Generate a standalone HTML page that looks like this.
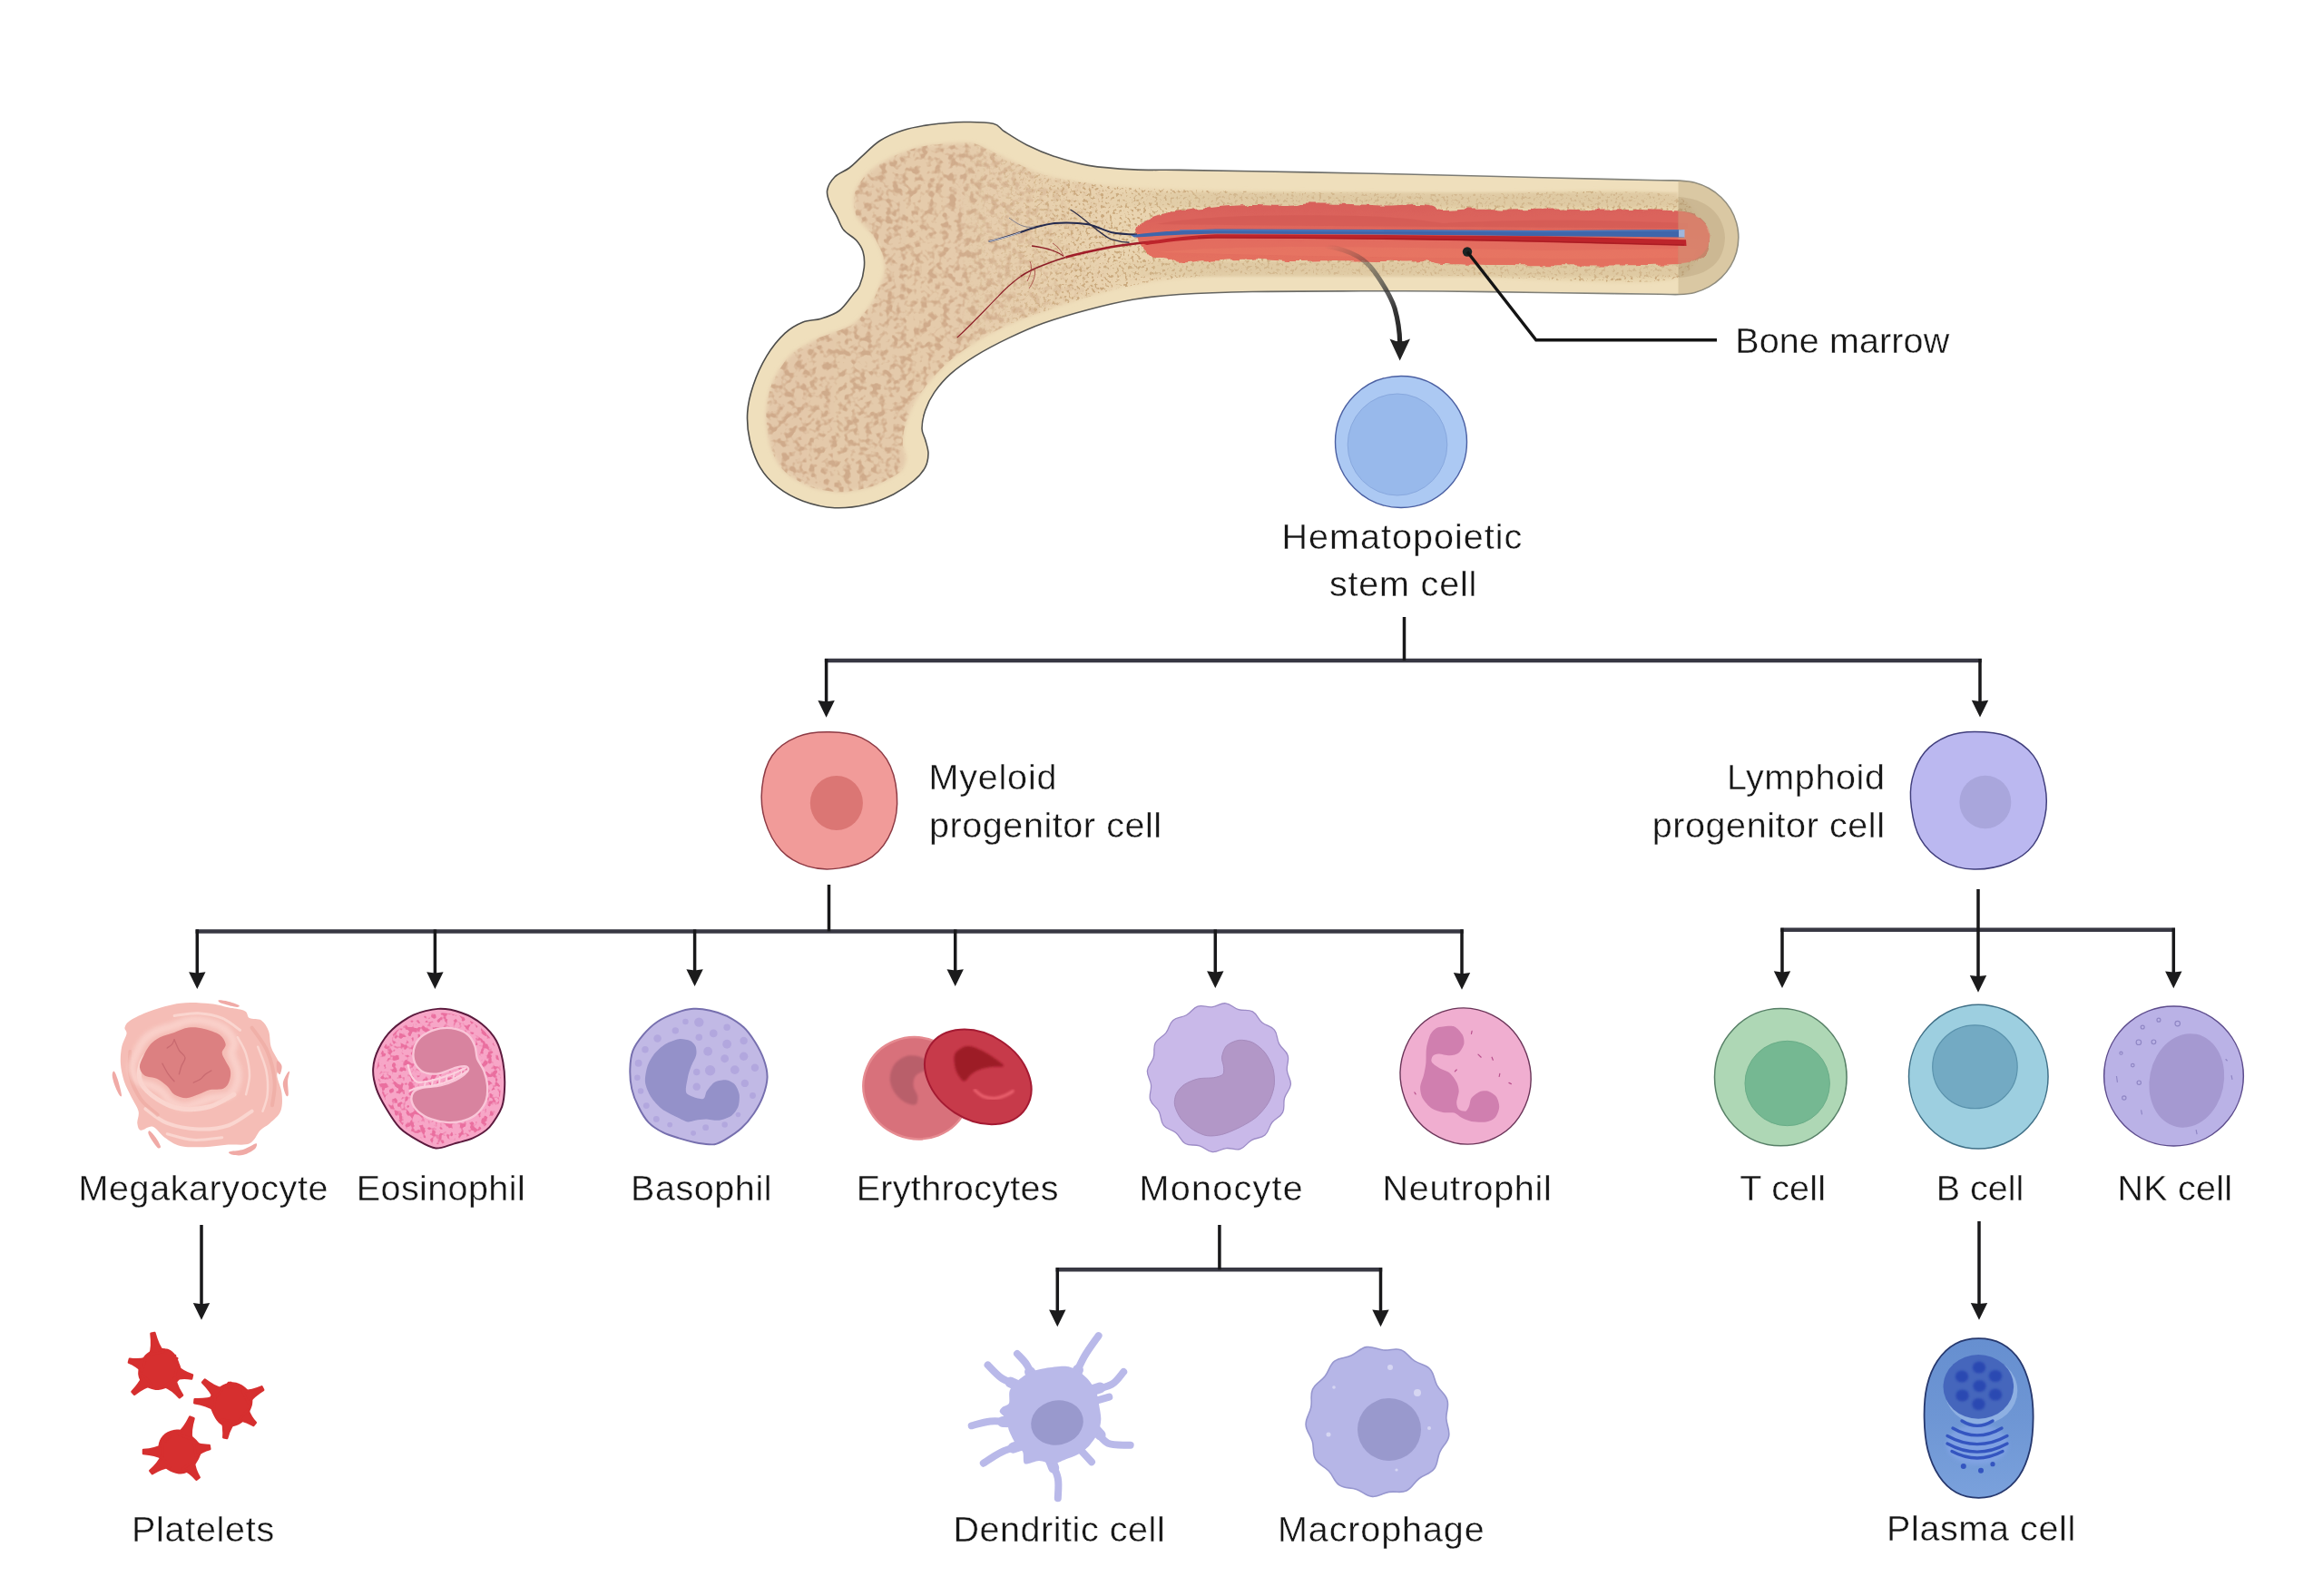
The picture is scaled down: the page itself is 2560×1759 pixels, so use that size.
<!DOCTYPE html>
<html lang="en"><head><meta charset="utf-8"><title>Hematopoiesis</title>
<style>
html,body{margin:0;padding:0;background:#fff;}
body{width:2560px;height:1759px;overflow:hidden;}
svg{display:block;}
text{font-family:"Liberation Sans",sans-serif;font-size:39.5px;fill:#161616;stroke:#fff;stroke-width:0.4px;paint-order:fill stroke;}
</style></head><body>
<svg width="2560" height="1759" viewBox="0 0 2560 1759">
<defs>
<filter id="spong" x="0" y="0" width="100%" height="100%" color-interpolation-filters="sRGB">
 <feTurbulence type="fractalNoise" baseFrequency="0.13" numOctaves="2" seed="11" result="n"/>
 <feColorMatrix in="n" type="matrix" values="0 0 0 0 0.79  0 0 0 0 0.63  0 0 0 0 0.50  -5 0 0 0 2.6" result="c"/>
 <feGaussianBlur in="c" stdDeviation="0.7" result="cb"/>
 <feComposite in="cb" in2="SourceGraphic" operator="in"/>
</filter>
<filter id="spong2" x="0" y="0" width="100%" height="100%" color-interpolation-filters="sRGB">
 <feTurbulence type="fractalNoise" baseFrequency="0.3" numOctaves="2" seed="5" result="n"/>
 <feColorMatrix in="n" type="matrix" values="0 0 0 0 0.76  0 0 0 0 0.62  0 0 0 0 0.44  -7 0 0 0 3.15" result="c"/>
 <feComposite in="c" in2="SourceGraphic" operator="in"/>
</filter>
<linearGradient id="fadeL" gradientUnits="userSpaceOnUse" x1="1050" y1="0" x2="1230" y2="0"><stop offset="0" stop-color="#fff" stop-opacity="1"/><stop offset="1" stop-color="#fff" stop-opacity="0"/></linearGradient>
<linearGradient id="fadeR" gradientUnits="userSpaceOnUse" x1="1050" y1="0" x2="1200" y2="0"><stop offset="0" stop-color="#fff" stop-opacity="0"/><stop offset="1" stop-color="#fff" stop-opacity="1"/></linearGradient>
<mask id="mL" maskUnits="userSpaceOnUse" x="800" y="100" width="1200" height="500"><rect x="800" y="100" width="1200" height="500" fill="url(#fadeL)"/></mask>
<mask id="mR" maskUnits="userSpaceOnUse" x="800" y="100" width="1200" height="500"><rect x="800" y="100" width="1200" height="500" fill="url(#fadeR)"/></mask>
<filter id="rough" x="-5%" y="-20%" width="110%" height="140%"><feTurbulence type="fractalNoise" baseFrequency="0.07" numOctaves="2" seed="4" result="t"/><feDisplacementMap in="SourceGraphic" in2="t" scale="7" xChannelSelector="R" yChannelSelector="G"/></filter>
<filter id="b2"><feGaussianBlur stdDeviation="2"/></filter>
<filter id="b3"><feGaussianBlur stdDeviation="3.5"/></filter>
<filter id="b1"><feGaussianBlur stdDeviation="1"/></filter>
<linearGradient id="spg" gradientUnits="userSpaceOnUse" x1="840" y1="0" x2="1500" y2="0">
 <stop offset="0" stop-color="#e3c8aa"/><stop offset="0.35" stop-color="#e5ccac"/><stop offset="0.6" stop-color="#e9d4b0"/><stop offset="1" stop-color="#e6d3ab"/>
</linearGradient>
<linearGradient id="mar" gradientUnits="userSpaceOnUse" x1="0" y1="226" x2="0" y2="292">
 <stop offset="0" stop-color="#d8605a"/><stop offset="0.4" stop-color="#de665c"/><stop offset="0.6" stop-color="#e36c5e"/><stop offset="1" stop-color="#e4705f"/>
</linearGradient>
<linearGradient id="carr" gradientUnits="userSpaceOnUse" x1="1460" y1="272" x2="1543" y2="380">
 <stop offset="0" stop-color="#333" stop-opacity="0"/><stop offset="0.35" stop-color="#333" stop-opacity="0.45"/><stop offset="0.75" stop-color="#2a2a2a" stop-opacity="0.95"/><stop offset="1" stop-color="#222" stop-opacity="1"/>
</linearGradient>
<linearGradient id="bstroke" gradientUnits="userSpaceOnUse" x1="820" y1="0" x2="1916" y2="0"><stop offset="0" stop-color="#4b4b49"/><stop offset="0.35" stop-color="#595956"/><stop offset="0.7" stop-color="#7a7a74"/><stop offset="1" stop-color="#8a8a80"/></linearGradient>
<clipPath id="boneclip"><path id="boneout" d="M1094.6 136.2C1102.1 137.9 1100.8 141.0 1107.0 145.0C1113.2 149.0 1122.8 155.4 1132.0 160.0C1141.2 164.6 1150.8 168.7 1162.0 172.4C1173.2 176.1 1184.9 180.0 1199.5 182.4C1214.1 184.8 1232.8 186.1 1249.4 186.9C1266.1 187.7 1277.6 187.1 1299.4 187.4C1321.2 187.7 1346.6 188.1 1380.0 188.7C1413.4 189.3 1465.0 190.3 1500.0 191.0C1535.0 191.7 1556.4 192.2 1589.7 193.0C1623.0 193.8 1668.3 195.0 1700.0 195.8C1731.7 196.6 1758.3 197.1 1780.0 197.6C1801.7 198.1 1818.2 198.6 1830.0 198.8C1841.8 199.1 1844.4 198.7 1850.6 199.1C1856.8 199.5 1862.0 199.8 1867.5 201.2C1872.9 202.6 1878.3 204.8 1883.2 207.5C1888.1 210.2 1892.7 213.6 1896.7 217.5C1900.7 221.3 1904.3 225.8 1907.1 230.4C1909.9 235.1 1912.1 240.3 1913.6 245.6C1915.0 250.8 1915.8 256.4 1915.8 261.8C1915.8 267.2 1915.0 272.8 1913.6 278.0C1912.1 283.3 1909.9 288.5 1907.1 293.1C1904.3 297.8 1900.7 302.3 1896.7 306.1C1892.7 310.0 1888.1 313.4 1883.2 316.1C1878.3 318.8 1872.9 321.0 1867.5 322.4C1862.0 323.8 1856.8 324.2 1850.6 324.5C1844.4 324.8 1841.8 324.4 1830.0 324.3C1818.2 324.2 1801.7 323.9 1780.0 323.6C1758.3 323.3 1731.7 322.9 1700.0 322.5C1668.3 322.1 1623.0 321.3 1589.7 321.0C1556.4 320.7 1535.0 320.7 1500.0 320.8C1465.0 320.9 1413.4 320.9 1380.0 321.5C1346.6 322.1 1321.2 323.1 1299.4 324.5C1277.6 325.9 1266.1 327.2 1249.4 330.0C1232.8 332.8 1216.1 336.8 1199.5 341.2C1182.9 345.6 1164.2 351.0 1149.6 356.2C1135.0 361.4 1124.5 366.4 1112.0 372.4C1099.5 378.4 1085.5 385.7 1074.7 392.4C1063.9 399.1 1054.7 405.7 1047.2 412.4C1039.7 419.1 1034.3 425.8 1029.7 432.4C1025.1 439.0 1022.0 445.6 1019.7 452.3C1017.4 459.0 1016.0 466.9 1016.0 472.3C1016.0 477.7 1018.5 480.2 1019.7 484.8C1020.9 489.4 1023.0 494.8 1023.0 499.8C1023.0 504.8 1022.3 509.8 1019.7 514.8C1017.1 519.8 1013.0 524.7 1007.2 529.7C1001.4 534.7 993.5 540.3 984.8 544.7C976.1 549.1 965.6 553.5 954.8 556.0C944.0 558.5 931.5 560.3 919.9 559.7C908.2 559.1 895.3 556.0 884.9 552.2C874.5 548.5 865.3 543.4 857.4 537.2C849.5 531.0 842.7 523.5 837.5 514.8C832.3 506.1 828.5 494.8 826.2 484.8C823.9 474.8 823.1 464.8 823.7 454.8C824.3 444.8 826.5 435.3 830.0 424.9C833.5 414.5 839.1 402.0 844.9 392.4C850.7 382.8 858.2 373.6 864.9 367.4C871.6 361.2 878.2 357.7 884.9 355.0C891.6 352.3 898.2 353.3 904.9 351.2C911.5 349.1 919.0 346.9 924.8 342.5C930.6 338.1 936.0 329.6 939.8 325.0C943.5 320.4 945.2 319.8 947.3 314.8C949.4 309.8 951.7 301.1 952.3 294.8C952.9 288.6 952.5 282.3 951.0 277.3C949.5 272.3 947.1 268.8 943.6 264.8C940.1 260.9 933.3 258.0 929.8 253.6C926.2 249.2 924.8 243.4 922.3 238.6C919.8 233.8 916.7 229.7 914.9 224.9C913.1 220.1 910.8 215.0 911.6 210.0C912.4 205.0 915.8 199.2 919.9 195.0C924.0 190.8 931.0 188.8 936.0 185.0C941.0 181.2 944.2 177.4 949.8 172.4C955.4 167.4 962.3 159.8 969.8 155.0C977.3 150.2 985.6 146.6 994.8 143.7C1003.9 140.8 1013.5 139.0 1024.7 137.5C1035.9 136.0 1050.3 134.7 1062.0 134.5C1073.7 134.3 1087.1 134.4 1094.6 136.2Z"/></clipPath>
</defs>
<path d="M1094.6 136.2C1102.1 137.9 1100.8 141.0 1107.0 145.0C1113.2 149.0 1122.8 155.4 1132.0 160.0C1141.2 164.6 1150.8 168.7 1162.0 172.4C1173.2 176.1 1184.9 180.0 1199.5 182.4C1214.1 184.8 1232.8 186.1 1249.4 186.9C1266.1 187.7 1277.6 187.1 1299.4 187.4C1321.2 187.7 1346.6 188.1 1380.0 188.7C1413.4 189.3 1465.0 190.3 1500.0 191.0C1535.0 191.7 1556.4 192.2 1589.7 193.0C1623.0 193.8 1668.3 195.0 1700.0 195.8C1731.7 196.6 1758.3 197.1 1780.0 197.6C1801.7 198.1 1818.2 198.6 1830.0 198.8C1841.8 199.1 1844.4 198.7 1850.6 199.1C1856.8 199.5 1862.0 199.8 1867.5 201.2C1872.9 202.6 1878.3 204.8 1883.2 207.5C1888.1 210.2 1892.7 213.6 1896.7 217.5C1900.7 221.3 1904.3 225.8 1907.1 230.4C1909.9 235.1 1912.1 240.3 1913.6 245.6C1915.0 250.8 1915.8 256.4 1915.8 261.8C1915.8 267.2 1915.0 272.8 1913.6 278.0C1912.1 283.3 1909.9 288.5 1907.1 293.1C1904.3 297.8 1900.7 302.3 1896.7 306.1C1892.7 310.0 1888.1 313.4 1883.2 316.1C1878.3 318.8 1872.9 321.0 1867.5 322.4C1862.0 323.8 1856.8 324.2 1850.6 324.5C1844.4 324.8 1841.8 324.4 1830.0 324.3C1818.2 324.2 1801.7 323.9 1780.0 323.6C1758.3 323.3 1731.7 322.9 1700.0 322.5C1668.3 322.1 1623.0 321.3 1589.7 321.0C1556.4 320.7 1535.0 320.7 1500.0 320.8C1465.0 320.9 1413.4 320.9 1380.0 321.5C1346.6 322.1 1321.2 323.1 1299.4 324.5C1277.6 325.9 1266.1 327.2 1249.4 330.0C1232.8 332.8 1216.1 336.8 1199.5 341.2C1182.9 345.6 1164.2 351.0 1149.6 356.2C1135.0 361.4 1124.5 366.4 1112.0 372.4C1099.5 378.4 1085.5 385.7 1074.7 392.4C1063.9 399.1 1054.7 405.7 1047.2 412.4C1039.7 419.1 1034.3 425.8 1029.7 432.4C1025.1 439.0 1022.0 445.6 1019.7 452.3C1017.4 459.0 1016.0 466.9 1016.0 472.3C1016.0 477.7 1018.5 480.2 1019.7 484.8C1020.9 489.4 1023.0 494.8 1023.0 499.8C1023.0 504.8 1022.3 509.8 1019.7 514.8C1017.1 519.8 1013.0 524.7 1007.2 529.7C1001.4 534.7 993.5 540.3 984.8 544.7C976.1 549.1 965.6 553.5 954.8 556.0C944.0 558.5 931.5 560.3 919.9 559.7C908.2 559.1 895.3 556.0 884.9 552.2C874.5 548.5 865.3 543.4 857.4 537.2C849.5 531.0 842.7 523.5 837.5 514.8C832.3 506.1 828.5 494.8 826.2 484.8C823.9 474.8 823.1 464.8 823.7 454.8C824.3 444.8 826.5 435.3 830.0 424.9C833.5 414.5 839.1 402.0 844.9 392.4C850.7 382.8 858.2 373.6 864.9 367.4C871.6 361.2 878.2 357.7 884.9 355.0C891.6 352.3 898.2 353.3 904.9 351.2C911.5 349.1 919.0 346.9 924.8 342.5C930.6 338.1 936.0 329.6 939.8 325.0C943.5 320.4 945.2 319.8 947.3 314.8C949.4 309.8 951.7 301.1 952.3 294.8C952.9 288.6 952.5 282.3 951.0 277.3C949.5 272.3 947.1 268.8 943.6 264.8C940.1 260.9 933.3 258.0 929.8 253.6C926.2 249.2 924.8 243.4 922.3 238.6C919.8 233.8 916.7 229.7 914.9 224.9C913.1 220.1 910.8 215.0 911.6 210.0C912.4 205.0 915.8 199.2 919.9 195.0C924.0 190.8 931.0 188.8 936.0 185.0C941.0 181.2 944.2 177.4 949.8 172.4C955.4 167.4 962.3 159.8 969.8 155.0C977.3 150.2 985.6 146.6 994.8 143.7C1003.9 140.8 1013.5 139.0 1024.7 137.5C1035.9 136.0 1050.3 134.7 1062.0 134.5C1073.7 134.3 1087.1 134.4 1094.6 136.2Z" fill="#efdfbc" stroke="url(#bstroke)" stroke-width="1.6"/>
<g clip-path="url(#boneclip)">
<path d="M1069.7 157.5C1079.7 158.8 1088.9 165.3 1099.6 170.0C1110.3 174.7 1136.2 188.1 1149.6 192.4C1163.0 196.7 1186.6 200.1 1200.0 202.0C1213.4 203.9 1236.7 206.1 1250.0 207.0C1263.3 207.9 1282.7 208.5 1300.0 209.0C1317.3 209.5 1340.0 210.3 1380.0 211.0C1420.0 211.7 1537.5 213.2 1600.0 214.0C1662.5 214.8 1815.8 204.7 1849.0 217.0C1882.2 229.3 1882.2 294.4 1849.0 306.0C1815.8 317.6 1662.5 304.5 1600.0 304.0C1537.5 303.5 1416.8 302.2 1380.0 302.3C1343.2 302.4 1338.4 303.8 1324.3 304.8C1310.2 305.8 1287.7 307.8 1274.4 309.8C1261.1 311.8 1237.8 316.4 1224.5 319.8C1211.2 323.2 1187.8 330.6 1174.5 335.0C1161.2 339.4 1136.3 347.8 1124.6 352.5C1112.9 357.2 1097.0 364.3 1087.0 370.0C1077.0 375.7 1058.0 388.2 1049.7 394.9C1041.4 401.6 1030.4 413.2 1024.7 419.9C1019.0 426.6 1010.9 438.1 1007.2 444.8C1003.5 451.5 999.0 463.8 997.3 469.8C995.6 475.8 994.6 485.1 994.8 489.8C995.0 494.5 998.8 500.8 998.5 504.8C998.2 508.8 996.8 515.8 992.3 519.8C987.8 523.8 973.1 531.7 964.8 534.7C956.5 537.7 939.1 541.9 929.8 542.2C920.5 542.5 903.6 540.2 894.9 537.2C886.2 534.2 870.9 525.5 864.9 519.8C858.9 514.1 852.6 502.8 849.9 494.8C847.2 486.8 844.4 469.1 844.4 459.8C844.4 450.5 846.5 433.9 849.9 424.9C853.3 415.9 863.2 399.2 869.9 392.4C876.6 385.6 890.6 378.4 899.9 373.7C909.2 369.0 931.8 362.7 939.8 357.5C947.8 352.3 956.1 340.0 959.8 335.0C963.5 330.0 965.3 324.5 967.3 319.8C969.3 315.1 974.1 305.1 974.8 299.8C975.5 294.5 974.0 285.1 972.3 279.8C970.6 274.5 966.0 265.1 962.3 259.8C958.6 254.5 947.6 245.0 944.8 240.0C942.0 235.0 941.2 226.3 941.0 222.0C940.8 217.7 941.5 212.3 943.6 208.0C945.7 203.7 952.8 194.1 957.0 190.0C961.2 185.9 969.1 180.6 974.8 177.4C980.5 174.2 993.3 168.3 1000.0 166.0C1006.7 163.7 1015.4 161.1 1024.7 160.0C1034.0 158.9 1059.7 156.2 1069.7 157.5Z" fill="url(#spg)" filter="url(#b2)"/>
<g mask="url(#mL)"><path d="M1069.7 157.5C1079.7 158.8 1088.9 165.3 1099.6 170.0C1110.3 174.7 1136.2 188.1 1149.6 192.4C1163.0 196.7 1186.6 200.1 1200.0 202.0C1213.4 203.9 1236.7 206.1 1250.0 207.0C1263.3 207.9 1282.7 208.5 1300.0 209.0C1317.3 209.5 1340.0 210.3 1380.0 211.0C1420.0 211.7 1537.5 213.2 1600.0 214.0C1662.5 214.8 1815.8 204.7 1849.0 217.0C1882.2 229.3 1882.2 294.4 1849.0 306.0C1815.8 317.6 1662.5 304.5 1600.0 304.0C1537.5 303.5 1416.8 302.2 1380.0 302.3C1343.2 302.4 1338.4 303.8 1324.3 304.8C1310.2 305.8 1287.7 307.8 1274.4 309.8C1261.1 311.8 1237.8 316.4 1224.5 319.8C1211.2 323.2 1187.8 330.6 1174.5 335.0C1161.2 339.4 1136.3 347.8 1124.6 352.5C1112.9 357.2 1097.0 364.3 1087.0 370.0C1077.0 375.7 1058.0 388.2 1049.7 394.9C1041.4 401.6 1030.4 413.2 1024.7 419.9C1019.0 426.6 1010.9 438.1 1007.2 444.8C1003.5 451.5 999.0 463.8 997.3 469.8C995.6 475.8 994.6 485.1 994.8 489.8C995.0 494.5 998.8 500.8 998.5 504.8C998.2 508.8 996.8 515.8 992.3 519.8C987.8 523.8 973.1 531.7 964.8 534.7C956.5 537.7 939.1 541.9 929.8 542.2C920.5 542.5 903.6 540.2 894.9 537.2C886.2 534.2 870.9 525.5 864.9 519.8C858.9 514.1 852.6 502.8 849.9 494.8C847.2 486.8 844.4 469.1 844.4 459.8C844.4 450.5 846.5 433.9 849.9 424.9C853.3 415.9 863.2 399.2 869.9 392.4C876.6 385.6 890.6 378.4 899.9 373.7C909.2 369.0 931.8 362.7 939.8 357.5C947.8 352.3 956.1 340.0 959.8 335.0C963.5 330.0 965.3 324.5 967.3 319.8C969.3 315.1 974.1 305.1 974.8 299.8C975.5 294.5 974.0 285.1 972.3 279.8C970.6 274.5 966.0 265.1 962.3 259.8C958.6 254.5 947.6 245.0 944.8 240.0C942.0 235.0 941.2 226.3 941.0 222.0C940.8 217.7 941.5 212.3 943.6 208.0C945.7 203.7 952.8 194.1 957.0 190.0C961.2 185.9 969.1 180.6 974.8 177.4C980.5 174.2 993.3 168.3 1000.0 166.0C1006.7 163.7 1015.4 161.1 1024.7 160.0C1034.0 158.9 1059.7 156.2 1069.7 157.5Z" fill="#000" filter="url(#spong)" opacity="0.75"/></g>
<g mask="url(#mR)"><path d="M1069.7 157.5C1079.7 158.8 1088.9 165.3 1099.6 170.0C1110.3 174.7 1136.2 188.1 1149.6 192.4C1163.0 196.7 1186.6 200.1 1200.0 202.0C1213.4 203.9 1236.7 206.1 1250.0 207.0C1263.3 207.9 1282.7 208.5 1300.0 209.0C1317.3 209.5 1340.0 210.3 1380.0 211.0C1420.0 211.7 1537.5 213.2 1600.0 214.0C1662.5 214.8 1815.8 204.7 1849.0 217.0C1882.2 229.3 1882.2 294.4 1849.0 306.0C1815.8 317.6 1662.5 304.5 1600.0 304.0C1537.5 303.5 1416.8 302.2 1380.0 302.3C1343.2 302.4 1338.4 303.8 1324.3 304.8C1310.2 305.8 1287.7 307.8 1274.4 309.8C1261.1 311.8 1237.8 316.4 1224.5 319.8C1211.2 323.2 1187.8 330.6 1174.5 335.0C1161.2 339.4 1136.3 347.8 1124.6 352.5C1112.9 357.2 1097.0 364.3 1087.0 370.0C1077.0 375.7 1058.0 388.2 1049.7 394.9C1041.4 401.6 1030.4 413.2 1024.7 419.9C1019.0 426.6 1010.9 438.1 1007.2 444.8C1003.5 451.5 999.0 463.8 997.3 469.8C995.6 475.8 994.6 485.1 994.8 489.8C995.0 494.5 998.8 500.8 998.5 504.8C998.2 508.8 996.8 515.8 992.3 519.8C987.8 523.8 973.1 531.7 964.8 534.7C956.5 537.7 939.1 541.9 929.8 542.2C920.5 542.5 903.6 540.2 894.9 537.2C886.2 534.2 870.9 525.5 864.9 519.8C858.9 514.1 852.6 502.8 849.9 494.8C847.2 486.8 844.4 469.1 844.4 459.8C844.4 450.5 846.5 433.9 849.9 424.9C853.3 415.9 863.2 399.2 869.9 392.4C876.6 385.6 890.6 378.4 899.9 373.7C909.2 369.0 931.8 362.7 939.8 357.5C947.8 352.3 956.1 340.0 959.8 335.0C963.5 330.0 965.3 324.5 967.3 319.8C969.3 315.1 974.1 305.1 974.8 299.8C975.5 294.5 974.0 285.1 972.3 279.8C970.6 274.5 966.0 265.1 962.3 259.8C958.6 254.5 947.6 245.0 944.8 240.0C942.0 235.0 941.2 226.3 941.0 222.0C940.8 217.7 941.5 212.3 943.6 208.0C945.7 203.7 952.8 194.1 957.0 190.0C961.2 185.9 969.1 180.6 974.8 177.4C980.5 174.2 993.3 168.3 1000.0 166.0C1006.7 163.7 1015.4 161.1 1024.7 160.0C1034.0 158.9 1059.7 156.2 1069.7 157.5Z" fill="#000" filter="url(#spong2)" opacity="0.8"/></g>
<defs><linearGradient id="bandg" gradientUnits="userSpaceOnUse" x1="1190" y1="0" x2="1340" y2="0"><stop offset="0" stop-color="#d9c39c" stop-opacity="0"/><stop offset="1" stop-color="#d9c39c" stop-opacity="0.55"/></linearGradient></defs>
<path d="M1190 212H1849V228H1190Z" fill="url(#bandg)" filter="url(#b1)"/>
<path d="M1190 288H1849V305H1190Z" fill="url(#bandg)" filter="url(#b1)"/>
<path d="M1253.0 258.6C1253.4 254.9 1256.2 248.0 1259.4 244.8C1262.6 241.6 1268.4 239.3 1274.4 237.4C1280.4 235.5 1292.0 233.5 1299.4 232.4C1306.8 231.3 1316.6 230.8 1324.0 230.0C1331.4 229.2 1340.6 228.0 1349.0 227.4C1357.4 226.8 1369.3 226.1 1380.0 226.0C1390.7 225.9 1411.0 227.2 1420.0 227.0C1429.0 226.8 1429.5 224.8 1440.0 224.5C1450.5 224.2 1476.3 224.6 1489.8 224.9C1503.3 225.2 1519.5 226.5 1530.0 226.5C1540.5 226.5 1553.0 225.0 1560.0 225.0C1567.0 225.0 1572.5 225.4 1577.0 226.5C1581.5 227.6 1583.2 231.4 1589.7 232.0C1596.2 232.6 1609.5 230.6 1620.0 230.5C1630.5 230.4 1645.8 231.5 1660.0 231.5C1674.2 231.5 1699.5 230.5 1714.5 230.5C1729.5 230.5 1747.2 231.4 1760.0 231.5C1772.8 231.6 1786.7 230.9 1800.0 231.0C1813.3 231.1 1838.8 231.7 1849.0 232.4C1859.2 233.2 1863.3 233.8 1868.0 236.0C1872.7 238.2 1877.6 243.4 1880.0 247.0C1882.4 250.6 1884.3 255.7 1884.3 260.0C1884.3 264.4 1882.4 271.8 1880.0 276.0C1877.6 280.2 1872.7 285.8 1868.0 288.0C1863.3 290.2 1862.2 290.3 1849.0 291.0C1835.8 291.7 1800.2 292.3 1780.0 292.5C1759.8 292.7 1734.0 292.4 1714.5 292.3C1695.0 292.2 1668.7 292.2 1650.0 292.0C1631.3 291.8 1601.0 291.6 1589.7 291.0C1578.5 290.4 1578.8 288.6 1575.0 288.0C1571.2 287.4 1573.0 287.3 1564.7 287.3C1556.5 287.3 1535.0 288.0 1520.0 288.0C1505.0 288.0 1479.8 287.3 1464.8 287.3C1449.8 287.3 1432.7 288.3 1420.0 288.0C1407.3 287.7 1392.0 285.6 1380.0 285.5C1368.0 285.4 1348.4 287.0 1340.0 287.3C1331.6 287.6 1330.4 286.9 1324.3 287.3C1318.2 287.7 1305.0 290.2 1299.4 289.8C1293.8 289.4 1291.5 285.9 1287.0 284.8C1282.5 283.7 1274.2 284.6 1269.7 282.3C1265.2 280.1 1259.5 273.4 1257.0 269.8C1254.5 266.2 1252.6 262.4 1253.0 258.6Z" fill="url(#mar)" filter="url(#rough)"/>
<path d="M1275 247C1320 238 1400 236 1500 238C1540 239 1570 243 1590 246C1700 240 1800 244 1860 246L1860 252C1700 250 1500 250 1275 247Z" fill="#cf5550" opacity="0.45"/>
<path d="M1275 278C1350 271 1450 270 1700 276L1870 274L1866 284C1700 287 1450 283 1275 278Z" fill="#ea7a66" opacity="0.5"/>
<path d="M1849.5 190H1925V335H1849.5Z" fill="#b8a27c" opacity="0.38"/>
<path d="M1849.5 217C1885 219 1900 240 1901 262C1900 287 1885 304 1849.5 306Z" fill="#a8906c" opacity="0.28"/>
<path d="M1849.5 232.4C1870 234 1884 246 1884.3 260C1884 278 1870 289 1849.5 291Z" fill="#e9806e" opacity="0.55"/>
</g>
<path d="M1089.6 266C1100 264 1112 260 1124.6 256C1138 251 1150 247.5 1162 246C1176 245 1188 245.5 1199.5 247.3C1210 250 1217 254 1224.5 256C1234 258 1244 258.3 1253 258.6" stroke="#242a4e" stroke-width="2" fill="none"/>
<path d="M1124.6 256C1110 262 1098 264 1089.6 266" stroke="#dfe3ee" stroke-width="1.2" fill="none" opacity="0.8"/>
<path d="M1179.5 231C1188 236 1196 243 1204.5 249.8C1212 256 1218 261 1224.5 263.6C1232 266 1238 267 1244.5 267.3" stroke="#2b2b45" stroke-width="1.4" fill="none"/>
<path d="M1112 240C1120 246 1128 252 1140 250" stroke="#7a7a8a" stroke-width="0.9" fill="none"/>
<path d="M1054.7 372.2C1070 358 1085 342 1099.6 327.2C1108 318 1116 311 1124.6 304.8" stroke="#8c1c26" stroke-width="1.1" fill="none"/>
<path d="M1124.6 304.8C1133 299 1141 295.5 1149.6 292.3C1158 289 1166 286 1174.5 283.5" stroke="#8c1c26" stroke-width="1.7" fill="none"/>
<path d="M1174.5 283.5C1191 279 1208 275.5 1224.5 272.3C1241 269.5 1258 267.5 1274.4 266" stroke="#a01c28" stroke-width="2.6" fill="none"/>
<path d="M1137 271C1145 272 1153 273.5 1159.6 276C1165 278 1169 280 1172 282.3" stroke="#8c1c26" stroke-width="1.3" fill="none"/>
<path d="M1160 268C1166 272 1170 277 1172 282.3M1135 288C1138 295 1136 302 1132 310M1140 296C1142 304 1138 312 1134 318" stroke="#9a3030" stroke-width="0.9" fill="none" opacity="0.8"/>
<path d="M1246 259.2C1280 255 1310 253 1340 252.4C1460 252.4 1580 253.4 1700 254L1856 253L1856 261.4L1700 260.2C1580 259 1460 258 1340 257.4C1310 258 1280 259.5 1250 261.5Z" fill="#3f66ab"/>
<path d="M1300 253.6C1460 253 1580 254 1700 254.8L1850 254" stroke="#5380c4" stroke-width="1.2" fill="none" opacity="0.8"/>
<path d="M1256 267.5C1285 262.5 1312 259.5 1340 258.2C1460 258.2 1580 259.2 1700 260.4L1858 264.2L1858.5 271L1700 267C1580 264.5 1460 262.8 1340 262.4C1312 263.5 1290 266 1264 270Z" fill="#bd242b"/>
<path d="M1320 262C1460 262 1580 263.6 1700 266L1856 270" stroke="#9c1820" stroke-width="1.2" fill="none" opacity="0.7"/>
<path d="M1850 253.2L1856.5 253L1856.5 261.4L1850 261.3Z" fill="#9fb6dc"/>
<path d="M1460 271C1492 276 1506 287 1514.8 299.8C1527 317 1534 330 1537 339.8C1541 354 1542.5 366 1542.7 378" stroke="url(#carr)" stroke-width="5.2" fill="none"/>
<path d="M1542.7 397.5L1531.5 373.5Q1542.7 379 1554 373.5Z" fill="#222"/>
<circle cx="1617" cy="277.5" r="5.2" fill="#1c2424"/>
<path d="M1617 277.5L1692.8 374.7H1892" stroke="#141414" stroke-width="3.4" fill="none" stroke-linejoin="miter"/>
<path d="M908.9 728.0H2183.8" stroke="#383843" stroke-width="4.5" fill="none"/>
<path d="M1547.5 680.0V728.0" stroke="#18181a" stroke-width="3.5" fill="none"/>
<path d="M910.6 726.0V774.2" stroke="#18181a" stroke-width="3.5" fill="none"/>
<path d="M910.6 790.8L901.4 772.0L910.6 773.2L919.8 772.0Z" fill="#1b1b1c"/>
<path d="M2182.0 726.0V773.9" stroke="#18181a" stroke-width="3.5" fill="none"/>
<path d="M2182.0 790.5L2172.8 771.7L2182.0 772.9L2191.2 771.7Z" fill="#1b1b1c"/>
<path d="M215.6 1026.4H1612.7" stroke="#383843" stroke-width="4.5" fill="none"/>
<path d="M913.5 975.0V1026.4" stroke="#18181a" stroke-width="3.5" fill="none"/>
<path d="M217.3 1024.4V1073.4" stroke="#18181a" stroke-width="3.5" fill="none"/>
<path d="M217.3 1090.0L208.1 1071.2L217.3 1072.4L226.5 1071.2Z" fill="#1b1b1c"/>
<path d="M479.4 1024.4V1073.4" stroke="#18181a" stroke-width="3.5" fill="none"/>
<path d="M479.4 1090.0L470.2 1071.2L479.4 1072.4L488.6 1071.2Z" fill="#1b1b1c"/>
<path d="M765.6 1024.4V1070.4" stroke="#18181a" stroke-width="3.5" fill="none"/>
<path d="M765.6 1087.0L756.4 1068.2L765.6 1069.4L774.8 1068.2Z" fill="#1b1b1c"/>
<path d="M1052.7 1024.4V1070.4" stroke="#18181a" stroke-width="3.5" fill="none"/>
<path d="M1052.7 1087.0L1043.5 1068.2L1052.7 1069.4L1061.9 1068.2Z" fill="#1b1b1c"/>
<path d="M1339.3 1024.4V1072.4" stroke="#18181a" stroke-width="3.5" fill="none"/>
<path d="M1339.3 1089.0L1330.1 1070.2L1339.3 1071.4L1348.5 1070.2Z" fill="#1b1b1c"/>
<path d="M1611.0 1024.4V1074.2" stroke="#18181a" stroke-width="3.5" fill="none"/>
<path d="M1611.0 1090.8L1601.8 1072.0L1611.0 1073.2L1620.2 1072.0Z" fill="#1b1b1c"/>
<path d="M1962.3 1024.8H2397.0" stroke="#383843" stroke-width="4.5" fill="none"/>
<path d="M2180.0 980.0V1077.1" stroke="#18181a" stroke-width="3.5" fill="none"/>
<path d="M2180.0 1093.7L2170.8 1074.9L2180.0 1076.1L2189.2 1074.9Z" fill="#1b1b1c"/>
<path d="M1964.0 1022.8V1072.4" stroke="#18181a" stroke-width="3.5" fill="none"/>
<path d="M1964.0 1089.0L1954.8 1070.2L1964.0 1071.4L1973.2 1070.2Z" fill="#1b1b1c"/>
<path d="M2395.3 1022.8V1072.6" stroke="#18181a" stroke-width="3.5" fill="none"/>
<path d="M2395.3 1089.2L2386.1 1070.4L2395.3 1071.6L2404.5 1070.4Z" fill="#1b1b1c"/>
<path d="M222.0 1350.0V1438.2" stroke="#18181a" stroke-width="3.5" fill="none"/>
<path d="M222.0 1454.8L212.8 1436.0L222.0 1437.2L231.2 1436.0Z" fill="#1b1b1c"/>
<path d="M1163.6 1399.2H1523.2" stroke="#383843" stroke-width="4.5" fill="none"/>
<path d="M1343.9 1350.0V1399.2" stroke="#18181a" stroke-width="3.5" fill="none"/>
<path d="M1165.3 1397.2V1445.6" stroke="#18181a" stroke-width="3.5" fill="none"/>
<path d="M1165.3 1462.2L1156.1 1443.4L1165.3 1444.6L1174.5 1443.4Z" fill="#1b1b1c"/>
<path d="M1521.5 1397.2V1445.6" stroke="#18181a" stroke-width="3.5" fill="none"/>
<path d="M1521.5 1462.2L1512.3 1443.4L1521.5 1444.6L1530.7 1443.4Z" fill="#1b1b1c"/>
<path d="M2181.0 1346.0V1438.1" stroke="#18181a" stroke-width="3.5" fill="none"/>
<path d="M2181.0 1454.7L2171.8 1435.9L2181.0 1437.1L2190.2 1435.9Z" fill="#1b1b1c"/>
<circle cx="1544" cy="487" r="72.5" fill="#acc9f3" stroke="#4a5fa2" stroke-width="1.4"/>
<ellipse cx="1540" cy="490" rx="54.8" ry="56" fill="#98b9eb" stroke="#88a8de" stroke-width="1"/>
<g transform="translate(914.0 882.0) scale(0.9850) translate(-914.0 -882.0)">
<path d="M914.0 805.6C926.0 805.8 939.3 806.9 950.0 812.0C960.7 817.1 971.4 825.5 978.0 836.0C984.6 846.5 988.5 861.8 989.5 875.0C990.5 888.2 988.6 903.3 984.0 915.0C979.4 926.7 971.8 937.8 962.0 945.0C952.2 952.2 937.0 956.2 925.0 958.0C913.0 959.8 900.8 959.3 890.0 956.0C879.2 952.7 868.0 946.5 860.0 938.0C852.0 929.5 845.6 916.7 842.0 905.0C838.4 893.3 837.3 880.2 838.6 868.0C839.9 855.8 843.4 841.5 850.0 832.0C856.6 822.5 867.3 815.4 878.0 811.0C888.7 806.6 902.0 805.4 914.0 805.6Z" fill="#f19b99" stroke="#8d3a44" stroke-width="1.5"/>
<ellipse cx="922" cy="885" rx="29.5" ry="30.5" fill="#db7674"/>
</g>
<g transform="translate(2180.5 882.2) scale(0.9820) translate(-2180.5 -882.2)">
<path d="M2176.0 805.0C2187.0 805.0 2201.0 805.5 2212.0 810.0C2223.0 814.5 2234.8 822.7 2242.0 832.0C2249.2 841.3 2252.8 854.7 2255.0 866.0C2257.2 877.3 2257.2 889.0 2255.0 900.0C2252.8 911.0 2248.7 923.3 2242.0 932.0C2235.3 940.7 2226.2 947.4 2215.0 952.0C2203.8 956.6 2187.5 959.7 2175.0 959.4C2162.5 959.1 2150.0 955.7 2140.0 950.0C2130.0 944.3 2120.8 935.0 2115.0 925.0C2109.2 915.0 2106.5 901.2 2105.0 890.0C2103.5 878.8 2103.5 868.3 2106.0 858.0C2108.5 847.7 2113.3 836.0 2120.0 828.0C2126.7 820.0 2136.7 813.8 2146.0 810.0C2155.3 806.2 2165.0 805.0 2176.0 805.0Z" fill="#bbb8f0" stroke="#403e7c" stroke-width="1.5"/>
<ellipse cx="2188" cy="884" rx="29" ry="29.7" fill="#a9a6dc"/>
</g>
<path d="M198.7 1105.7C187.7 1107.0 175.0 1111.0 165.8 1114.2C156.6 1117.4 148.1 1121.7 143.4 1124.7C138.7 1127.8 138.2 1130.2 137.5 1132.6C136.8 1135.0 140.0 1135.7 139.5 1139.2C138.9 1142.7 135.3 1148.2 134.2 1153.7C133.1 1159.2 132.5 1165.7 132.9 1172.1C133.3 1178.5 134.9 1185.7 136.8 1191.8C138.8 1198.0 142.1 1203.5 144.7 1208.9C147.4 1214.4 151.5 1219.9 152.6 1224.7C153.7 1229.6 150.9 1234.4 151.3 1237.9C151.8 1241.4 152.4 1245.1 155.3 1245.8C158.1 1246.4 164.0 1240.5 168.4 1241.8C172.8 1243.2 176.5 1250.2 181.6 1253.7C186.6 1257.2 191.4 1261.1 198.7 1262.9C205.9 1264.6 216.2 1264.4 225.0 1264.2C233.8 1264.0 243.0 1262.2 251.3 1261.6C259.6 1260.9 269.1 1262.9 275.0 1260.3C280.9 1257.6 283.1 1249.5 286.8 1245.8C290.6 1242.1 293.6 1241.4 297.4 1237.9C301.1 1234.4 307.0 1230.2 309.2 1224.7C311.4 1219.3 311.2 1211.6 310.5 1205.0C309.9 1198.4 305.5 1190.3 305.3 1185.3C305.0 1180.2 309.2 1177.8 309.2 1174.7C309.2 1171.7 307.0 1170.4 305.3 1166.8C303.5 1163.3 300.2 1158.7 298.7 1153.7C297.1 1148.6 297.8 1141.4 296.1 1136.6C294.3 1131.8 291.7 1127.1 288.2 1124.7C284.6 1122.3 278.1 1123.9 275.0 1122.1C271.9 1120.4 273.7 1116.2 269.7 1114.2C265.8 1112.2 257.7 1111.6 251.3 1110.3C245.0 1108.9 240.4 1107.1 231.6 1106.3C222.8 1105.5 209.6 1104.3 198.7 1105.7Z" fill="#f5bdb6"/>
<g fill="none" stroke="#fbd9d3" stroke-linecap="round" opacity="0.9">
<path d="M168.4 1153.7C166.2 1156.8 157.5 1165.5 155.3 1172.1C153.1 1178.7 152.2 1186.6 155.3 1193.2C158.3 1199.7 166.2 1206.8 173.7 1211.6C181.1 1216.4 190.4 1220.8 200.0 1222.1C209.6 1223.4 221.9 1222.1 231.6 1219.5C241.2 1216.8 253.5 1208.5 257.9 1206.3" stroke-width="5"/>
<path d="M160.5 1222.1C164.5 1224.7 174.6 1234.2 184.2 1237.9C193.9 1241.6 207.2 1244.0 218.4 1244.5C229.6 1244.9 241.4 1243.8 251.3 1240.5C261.2 1237.2 273.2 1227.4 277.6 1224.7" stroke-width="4"/>
<path d="M192.1 1119.5C196.5 1119.0 209.6 1116.4 218.4 1116.8C227.2 1117.3 237.1 1119.0 244.7 1122.1C252.4 1125.2 261.2 1133.1 264.5 1135.3" stroke-width="3"/>
<path d="M261.8 1143.2C263.4 1146.2 268.9 1154.6 271.1 1161.6C273.2 1168.6 275.0 1177.8 275.0 1185.3C275.0 1192.7 271.7 1202.8 271.1 1206.3" stroke-width="2.5"/>
<path d="M284.2 1153.7C285.7 1158.1 291.7 1171.2 293.4 1180.0C295.2 1188.8 295.4 1198.9 294.7 1206.3C294.1 1213.8 290.4 1221.7 289.5 1224.7" stroke-width="2.5"/>
<path d="M184.2 1249.7C189.0 1250.8 203.1 1255.7 213.2 1256.3C223.2 1257.0 239.5 1254.1 244.7 1253.7" stroke-width="3"/>
</g>
<g fill="none" stroke="#eda79f" stroke-linecap="round" opacity="0.6">
<path d="M143.4 1158.9C143.4 1163.3 141.4 1176.5 143.4 1185.3C145.4 1194.0 150.2 1204.3 155.3 1211.6C160.3 1218.8 170.6 1225.8 173.7 1228.7" stroke-width="4"/>
<path d="M277.6 1132.6C280.5 1137.0 290.6 1149.1 294.7 1158.9C298.9 1168.8 301.8 1182.0 302.6 1191.8C303.5 1201.7 300.4 1213.8 300.0 1218.2" stroke-width="4"/>
</g>
<path d="M190.8 1130.7C196.9 1128.7 202.9 1125.5 209.2 1124.7C215.6 1124.0 222.6 1124.5 228.9 1126.1C235.3 1127.6 242.5 1130.2 247.4 1133.9C252.2 1137.7 256.6 1143.8 257.9 1148.4C259.2 1153.0 254.6 1156.3 255.3 1161.6C255.9 1166.8 261.0 1174.3 261.8 1180.0C262.7 1185.7 262.3 1191.2 260.5 1195.8C258.8 1200.4 255.9 1205.2 251.3 1207.6C246.7 1210.0 238.4 1208.9 232.9 1210.3C227.4 1211.6 223.2 1214.0 218.4 1215.5C213.6 1217.1 209.0 1219.7 203.9 1219.5C198.9 1219.3 192.3 1216.8 188.2 1214.2C184.0 1211.6 182.2 1206.5 178.9 1203.7C175.7 1200.8 172.8 1199.1 168.4 1197.1C164.0 1195.1 156.5 1195.1 152.6 1191.8C148.8 1188.6 145.8 1182.4 145.4 1177.4C145.0 1172.3 147.7 1166.8 150.0 1161.6C152.3 1156.3 155.5 1150.0 159.2 1145.8C162.9 1141.6 167.1 1139.1 172.4 1136.6C177.6 1134.1 184.6 1132.6 190.8 1130.7Z" fill="none" stroke="#fad4ce" stroke-width="9" opacity="0.8" filter="url(#b2)"/>
<path d="M192.1 1137.9C197.4 1136.1 202.4 1133.3 207.9 1132.6C213.4 1132.0 219.3 1132.6 225.0 1133.9C230.7 1135.3 238.2 1137.7 242.1 1140.5C246.1 1143.4 248.2 1147.8 248.7 1151.1C249.1 1154.3 244.7 1157.2 244.7 1160.3C244.7 1163.3 247.1 1166.2 248.7 1169.5C250.2 1172.8 253.3 1176.3 253.9 1180.0C254.6 1183.7 253.9 1188.6 252.6 1191.8C251.3 1195.1 249.6 1198.2 246.1 1199.7C242.5 1201.3 236.2 1200.0 231.6 1201.1C227.0 1202.1 222.8 1204.8 218.4 1206.3C214.0 1207.9 209.6 1210.3 205.3 1210.3C200.9 1210.3 195.6 1208.5 192.1 1206.3C188.6 1204.1 187.3 1200.0 184.2 1197.1C181.1 1194.3 177.9 1191.2 173.7 1189.2C169.5 1187.2 162.5 1187.5 159.2 1185.3C155.9 1183.1 154.2 1179.6 153.9 1176.1C153.7 1172.5 155.9 1168.4 157.9 1164.2C159.9 1160.0 162.7 1154.6 165.8 1151.1C168.9 1147.5 171.9 1145.4 176.3 1143.2C180.7 1141.0 186.8 1139.6 192.1 1137.9Z" fill="#dc8081"/>
<g fill="none" stroke="#c86a70" stroke-width="1.3" stroke-linecap="round">
<path d="M192.1 1145.8C193.0 1147.8 195.4 1154.3 197.4 1157.6C199.3 1160.9 203.5 1162.7 203.9 1165.5C204.4 1168.4 201.1 1171.7 200.0 1174.7C198.9 1177.8 197.8 1182.4 197.4 1183.9"/>
<path d="M178.9 1172.1C180.0 1174.1 183.3 1180.7 185.5 1183.9C187.7 1187.2 191.0 1190.5 192.1 1191.8"/>
<path d="M184.2 1155.0C185.1 1154.3 188.2 1152.6 189.5 1151.1C190.8 1149.5 191.7 1146.7 192.1 1145.8"/>
<path d="M213.2 1193.2C214.5 1192.5 218.9 1190.7 221.1 1189.2C223.2 1187.7 224.3 1185.5 226.3 1183.9C228.3 1182.4 231.8 1180.7 232.9 1180.0"/>
</g>
<g fill="#f0aaa6">
<path d="M240.8 1102.4C242.2 1102.1 247.6 1102.8 251.3 1103.7C255.0 1104.6 261.5 1106.8 263.2 1107.9C264.8 1108.9 263.4 1110.1 261.2 1110.0C259.0 1109.9 253.1 1108.2 250.0 1107.4C246.9 1106.6 244.3 1106.1 242.8 1105.3C241.2 1104.4 239.4 1102.6 240.8 1102.4Z"/>
<path d="M125.7 1180.7C126.6 1181.3 128.2 1184.9 129.6 1189.2C131.0 1193.5 133.6 1203.4 133.9 1206.3C134.3 1209.3 132.9 1208.7 131.6 1207.0C130.3 1205.2 127.6 1199.4 126.3 1195.8C125.0 1192.2 123.8 1187.8 123.7 1185.3C123.6 1182.7 124.7 1180.0 125.7 1180.7Z"/>
<path d="M165.1 1246.4C166.5 1247.2 169.7 1250.8 171.7 1253.7C173.7 1256.5 176.6 1261.7 177.0 1263.6C177.3 1265.4 175.3 1266.1 173.7 1264.9C172.0 1263.7 168.8 1258.9 167.1 1256.3C165.4 1253.7 163.8 1250.7 163.4 1249.1C163.1 1247.4 163.8 1245.7 165.1 1246.4Z"/>
<path d="M319.1 1181.3C319.3 1182.6 317.3 1187.7 317.1 1191.8C316.9 1196.0 318.1 1203.8 317.8 1206.3C317.4 1208.8 316.1 1208.9 315.1 1207.0C314.1 1205.0 311.7 1198.3 311.8 1194.5C312.0 1190.6 314.6 1186.1 315.8 1183.9C317.0 1181.8 318.9 1180.0 319.1 1181.3Z"/>
<path d="M252.6 1269.5C254.6 1268.5 263.5 1268.4 268.4 1266.8C273.4 1265.3 280.3 1260.3 282.2 1260.3C284.2 1260.3 282.6 1264.8 280.3 1266.8C278.0 1268.9 272.4 1271.8 268.4 1272.8C264.5 1273.8 259.2 1273.3 256.6 1272.8C253.9 1272.2 250.7 1270.5 252.6 1269.5Z"/>
<path d="M305.3 1169.5C306.1 1168.6 310.0 1172.3 310.5 1174.7C311.1 1177.1 309.4 1183.1 308.6 1183.9C307.7 1184.8 305.8 1182.4 305.3 1180.0C304.7 1177.6 304.4 1170.4 305.3 1169.5Z"/>
</g>
<g transform="translate(483.6 1188.7) scale(0.9850) translate(-483.6 -1188.7)">
<path d="M482.7 1110.7C490.3 1110.3 502.2 1112.7 509.0 1115.1C515.9 1117.4 526.2 1123.2 531.6 1127.6C537.0 1132.0 544.6 1140.4 547.9 1146.4C551.2 1152.4 554.1 1163.2 555.4 1170.2C556.7 1177.2 557.5 1189.5 557.3 1196.5C557.1 1203.5 556.5 1213.8 554.2 1220.3C551.8 1226.8 544.9 1238.0 540.4 1242.9C535.8 1247.8 527.2 1252.8 521.6 1255.4C516.0 1258.0 506.1 1260.1 500.3 1261.7C494.5 1263.3 485.8 1267.2 480.2 1266.7C474.6 1266.2 465.8 1261.1 460.2 1257.9C454.6 1254.8 445.0 1249.0 440.1 1244.1C435.2 1239.2 428.8 1229.0 425.1 1222.8C421.4 1216.7 415.9 1206.6 413.8 1200.3C411.7 1194.0 409.7 1184.0 410.1 1177.7C410.4 1171.4 413.3 1161.3 416.3 1155.2C419.3 1149.0 425.9 1139.1 431.4 1133.9C436.8 1128.6 448.0 1120.8 455.2 1117.6C462.4 1114.3 475.2 1111.0 482.7 1110.7Z" fill="#f7a6c7" stroke="#5c1a3e" stroke-width="2"/>
<defs><filter id="eosp" x="400" y="1100" width="170" height="180" filterUnits="userSpaceOnUse" color-interpolation-filters="sRGB"><feTurbulence type="fractalNoise" baseFrequency="0.16" numOctaves="2" seed="3" result="n"/><feColorMatrix in="n" type="matrix" values="0 0 0 0 0.91  0 0 0 0 0.40  0 0 0 0 0.60  -8 0 0 0 4.0" result="c"/><feComposite in="c" in2="SourceGraphic" operator="in"/></filter></defs>
<path d="M482.7 1115.1C489.8 1114.7 501.3 1116.6 507.8 1118.8C514.3 1121.0 524.0 1126.6 529.1 1130.7C534.2 1134.8 541.0 1142.7 544.1 1148.3C547.3 1153.9 550.4 1164.1 551.7 1170.8C552.9 1177.6 553.2 1189.8 552.9 1196.5C552.6 1203.3 552.0 1213.0 549.8 1219.1C547.6 1225.1 541.5 1235.2 537.2 1239.7C533.0 1244.3 525.0 1249.1 519.7 1251.7C514.4 1254.2 505.1 1256.4 499.6 1257.9C494.2 1259.4 486.1 1262.8 480.9 1262.3C475.6 1261.8 467.3 1257.1 462.1 1254.2C456.8 1251.2 447.9 1245.7 443.3 1241.0C438.6 1236.4 432.4 1226.7 428.8 1221.0C425.3 1215.2 420.2 1205.7 418.2 1199.6C416.2 1193.6 414.1 1183.8 414.4 1177.7C414.8 1171.7 417.9 1162.1 420.7 1156.4C423.5 1150.7 429.4 1141.9 434.5 1137.0C439.6 1132.1 450.3 1124.4 457.0 1121.3C463.8 1118.3 475.6 1115.4 482.7 1115.1Z" fill="#000" filter="url(#eosp)" opacity="0.85"/>
<path d="M485.2 1132.6C490.7 1131.6 498.1 1132.1 502.8 1133.2C507.5 1134.4 513.4 1137.2 516.6 1140.1C519.8 1143.0 522.6 1148.7 524.1 1152.7C525.6 1156.6 525.1 1162.3 526.6 1166.4C528.1 1170.6 532.4 1175.7 534.1 1180.2C535.8 1184.7 537.5 1191.6 537.9 1196.5C538.2 1201.4 538.1 1208.3 536.6 1212.8C535.1 1217.3 531.4 1223.2 527.8 1226.6C524.3 1230.0 517.9 1233.7 512.8 1235.4C507.7 1237.1 499.6 1238.1 494.0 1237.9C488.4 1237.7 480.3 1236.0 475.2 1234.1C470.1 1232.2 463.5 1228.3 460.2 1225.3C456.9 1222.3 454.0 1217.3 453.3 1214.1C452.5 1210.9 453.4 1206.3 455.2 1204.0C456.9 1201.8 460.7 1200.2 465.2 1199.0C469.7 1197.9 479.6 1197.8 485.2 1196.5C490.9 1195.2 498.2 1192.7 502.8 1190.3C507.4 1187.8 514.2 1182.5 515.9 1180.2C517.6 1178.0 516.0 1175.8 514.1 1175.2C512.1 1174.6 507.1 1175.3 502.8 1176.5C498.5 1177.6 490.1 1181.8 485.2 1182.7C480.4 1183.7 474.0 1183.7 470.2 1182.7C466.4 1181.8 462.4 1179.1 460.2 1176.5C457.9 1173.8 455.6 1168.9 455.2 1165.2C454.7 1161.4 455.4 1155.2 457.0 1151.4C458.7 1147.6 462.2 1142.9 466.4 1140.1C470.7 1137.3 479.8 1133.6 485.2 1132.6Z" fill="#d8839f" stroke="#f9c6d8" stroke-width="2.4"/>
<path d="M448.9 1172.7C449.5 1174.8 450.8 1181.9 452.7 1185.2C454.5 1188.6 456.0 1191.9 460.2 1192.8C464.4 1193.6 471.5 1191.7 477.7 1190.3C484.0 1188.8 491.7 1186.3 497.8 1184.0C503.8 1181.7 511.3 1177.7 514.1 1176.5" fill="none" stroke="#fbd0de" stroke-width="2.2"/>
<path d="M450.2 1202.8C451.8 1202.2 455.6 1200.1 460.2 1199.0C464.8 1198.0 471.5 1198.0 477.7 1196.5C484.0 1195.1 491.4 1193.0 497.8 1190.3C504.1 1187.5 512.9 1181.9 515.9 1180.2" fill="none" stroke="#fbd0de" stroke-width="2.2"/>
<path d="M469 1191l-2 8M477 1189l-1.5 9M485 1186l-1 9M493 1184l-1 8M501 1181l-1 8M509 1178l-.5 8" stroke="#fbd0de" stroke-width="1.8" fill="none"/>
</g>
<g transform="translate(770.0 1186.5) scale(0.9850) translate(-770.0 -1186.5)">
<path d="M764.0 1110.7C769.2 1110.3 777.5 1111.4 782.8 1112.6C788.0 1113.7 796.3 1116.2 801.6 1118.8C806.8 1121.5 816.0 1127.3 820.4 1131.4C824.8 1135.4 829.7 1142.6 832.9 1147.6C836.1 1152.7 841.0 1162.1 842.9 1167.7C844.9 1173.3 846.9 1182.0 846.7 1187.7C846.5 1193.5 843.8 1203.4 841.7 1209.0C839.6 1214.7 835.0 1222.9 831.7 1227.8C828.3 1232.8 822.3 1240.1 817.9 1244.1C813.5 1248.2 804.5 1254.1 800.3 1256.7C796.1 1259.2 792.0 1261.7 787.8 1262.3C783.6 1262.9 775.9 1262.0 770.3 1261.1C764.6 1260.1 753.3 1257.1 747.7 1255.4C742.1 1253.7 734.9 1251.6 730.2 1249.1C725.4 1246.7 717.7 1241.9 713.9 1237.9C710.0 1233.8 705.2 1225.6 702.6 1220.3C699.9 1215.1 696.4 1206.2 695.1 1200.3C693.7 1194.3 693.0 1183.7 693.2 1177.7C693.4 1171.8 694.3 1162.9 696.3 1157.7C698.3 1152.4 703.7 1144.7 707.6 1140.1C711.5 1135.6 718.6 1128.6 723.9 1125.1C729.1 1121.6 739.6 1117.1 745.2 1115.1C750.8 1113.0 758.7 1111.0 764.0 1110.7Z" fill="#c1b9e5" stroke="#766fae" stroke-width="2"/>
<g fill="#b0a5dd" opacity="0.85">
<circle cx="770.3" cy="1125.7" r="5.3"/>
<circle cx="786.5" cy="1138.2" r="4.5"/>
<circle cx="801.6" cy="1131.4" r="3.8"/>
<circle cx="770.3" cy="1142.6" r="3.8"/>
<circle cx="801.6" cy="1150.2" r="5.0"/>
<circle cx="820.4" cy="1146.4" r="4.3"/>
<circle cx="780.3" cy="1158.3" r="5.0"/>
<circle cx="799.1" cy="1166.4" r="4.5"/>
<circle cx="820.4" cy="1163.9" r="4.8"/>
<circle cx="782.8" cy="1179.6" r="5.8"/>
<circle cx="810.4" cy="1179.0" r="5.0"/>
<circle cx="832.9" cy="1176.5" r="4.3"/>
<circle cx="767.7" cy="1181.5" r="3.8"/>
<circle cx="767.7" cy="1197.8" r="4.3"/>
<circle cx="821.6" cy="1194.0" r="4.3"/>
<circle cx="830.4" cy="1207.8" r="3.5"/>
<circle cx="743.9" cy="1135.1" r="3.8"/>
<circle cx="723.9" cy="1143.9" r="4.3"/>
<circle cx="710.1" cy="1156.4" r="3.8"/>
<circle cx="702.6" cy="1171.5" r="4.0"/>
<circle cx="701.3" cy="1187.7" r="3.3"/>
<circle cx="705.1" cy="1202.8" r="3.3"/>
<circle cx="711.4" cy="1219.1" r="3.5"/>
<circle cx="722.6" cy="1234.1" r="3.5"/>
<circle cx="737.7" cy="1240.4" r="3.0"/>
<circle cx="777.8" cy="1243.5" r="3.5"/>
<circle cx="764.0" cy="1249.8" r="3.0"/>
<circle cx="799.1" cy="1240.4" r="3.3"/>
<circle cx="814.1" cy="1229.1" r="2.8"/>
<circle cx="755.2" cy="1125.1" r="3.3"/>
</g>
<path d="M747.7 1144.5C751.4 1144.0 757.7 1145.3 760.2 1146.4C762.7 1147.5 765.6 1150.5 766.5 1152.7C767.4 1154.8 767.8 1159.7 767.1 1162.7C766.4 1165.7 762.7 1171.9 761.5 1175.2C760.2 1178.6 758.4 1183.7 757.7 1187.7C757.1 1191.8 754.2 1202.1 756.5 1205.3C758.7 1208.5 771.6 1211.9 774.6 1211.6C777.6 1211.2 777.3 1205.3 779.0 1202.8C780.8 1200.3 785.0 1194.4 787.8 1192.8C790.6 1191.1 797.3 1189.9 800.3 1190.3C803.3 1190.6 808.3 1193.1 810.4 1195.3C812.4 1197.4 814.9 1203.2 815.4 1206.5C815.9 1209.9 815.3 1217.2 814.1 1220.3C812.9 1223.5 809.4 1228.3 806.6 1230.4C803.8 1232.4 796.6 1234.9 792.8 1235.4C789.0 1235.9 781.3 1234.1 777.8 1234.1C774.3 1234.1 769.2 1234.9 766.5 1235.4C763.8 1235.8 760.6 1237.7 757.7 1237.2C754.9 1236.7 749.0 1233.5 745.2 1231.6C741.3 1229.7 732.7 1225.8 728.9 1222.8C725.1 1219.8 718.9 1213.1 716.4 1209.0C713.9 1205.0 710.6 1197.3 710.1 1192.8C709.6 1188.2 711.3 1179.4 712.6 1175.2C713.9 1171.0 717.5 1164.8 720.1 1161.4C722.8 1158.1 729.0 1152.4 732.7 1150.2C736.3 1147.9 744.0 1145.0 747.7 1144.5Z" fill="#9491c9"/>
</g>
<g transform="rotate(22 1010 1199.3)"><ellipse cx="1010" cy="1199.3" rx="59" ry="55.5" fill="#d8717b" stroke="#e58a90" stroke-width="2.5"/></g>
<path d="M1003.3 1163.2C1007.1 1163.0 1012.3 1163.7 1015.7 1165.4C1019.1 1167.1 1022.9 1171.1 1023.6 1173.3C1024.4 1175.6 1022.7 1176.9 1020.2 1179.0C1017.8 1181.0 1011.2 1182.7 1009.0 1185.7C1006.7 1188.7 1006.3 1193.3 1006.7 1197.0C1007.1 1200.8 1010.8 1204.9 1011.2 1208.3C1011.6 1211.7 1011.2 1216.2 1009.0 1217.3C1006.7 1218.4 1001.4 1217.1 997.7 1215.1C993.9 1213.0 989.2 1209.0 986.4 1204.9C983.6 1200.8 981.1 1195.1 980.8 1190.2C980.4 1185.4 982.1 1179.5 984.1 1175.6C986.2 1171.6 990.0 1168.6 993.2 1166.6C996.4 1164.5 999.6 1163.4 1003.3 1163.2Z" fill="#b95e6a" filter="url(#b1)"/>
<g transform="rotate(33 1077.8 1186.9)"><ellipse cx="1077.8" cy="1186.9" rx="63" ry="47" fill="#c73a4a" stroke="#a41a32" stroke-width="2"/></g>
<path d="M1051.8 1163.2C1052.6 1159.6 1054.8 1158.1 1057.5 1156.4C1060.1 1154.7 1063.7 1152.8 1067.6 1153.0C1071.6 1153.2 1076.6 1155.5 1081.2 1157.5C1085.7 1159.6 1090.6 1162.6 1094.7 1165.4C1098.8 1168.2 1105.6 1172.8 1106.0 1174.5C1106.3 1176.1 1100.9 1175.0 1096.9 1175.6C1093.0 1176.1 1086.6 1176.5 1082.3 1177.8C1078.0 1179.2 1074.2 1181.2 1071.0 1183.5C1067.8 1185.7 1065.4 1190.8 1063.1 1191.4C1060.9 1191.9 1059.2 1189.1 1057.5 1186.9C1055.8 1184.6 1053.9 1181.8 1053.0 1177.8C1052.0 1173.9 1051.1 1166.7 1051.8 1163.2Z" fill="#9d1a26" filter="url(#b1)"/>
<path d="M1074.4 1201.5C1075.9 1202.7 1079.8 1206.8 1083.4 1208.3C1087.0 1209.8 1091.7 1210.7 1095.8 1210.5C1100.0 1210.4 1104.8 1208.5 1108.2 1207.2C1111.6 1205.8 1114.8 1203.4 1116.1 1202.7" fill="none" stroke="#e85e6c" stroke-width="3.5" stroke-linecap="round" filter="url(#b1)"/>
<path d="M1419.2 1163.4C1420.9 1169.2 1417.7 1173.2 1418.3 1179.6C1418.9 1186.0 1422.9 1189.2 1422.4 1195.3C1421.8 1201.4 1417.3 1203.9 1415.6 1210.0C1413.8 1216.2 1416.3 1220.7 1413.5 1226.1C1410.8 1231.5 1405.8 1232.1 1401.9 1237.0C1398.0 1242.0 1398.6 1247.1 1394.0 1251.0C1389.5 1254.9 1384.7 1253.5 1379.3 1256.6C1373.8 1259.6 1372.4 1264.5 1366.8 1266.3C1361.2 1268.1 1357.3 1264.9 1351.2 1265.6C1345.0 1266.2 1341.9 1270.2 1336.1 1269.6C1330.2 1269.1 1327.9 1264.6 1321.9 1262.8C1316.0 1260.9 1311.6 1263.3 1306.4 1260.5C1301.2 1257.6 1300.8 1252.5 1295.9 1248.5C1291.1 1244.5 1286.1 1245.0 1282.4 1240.3C1278.6 1235.6 1280.1 1230.6 1277.2 1225.0C1274.2 1219.3 1269.4 1217.9 1267.6 1212.0C1265.9 1206.2 1269.1 1202.2 1268.5 1195.8C1267.9 1189.4 1263.9 1186.2 1264.4 1180.1C1265.0 1174.0 1269.5 1171.5 1271.2 1165.4C1273.0 1159.2 1270.5 1154.7 1273.3 1149.3C1276.0 1143.9 1281.0 1143.3 1284.9 1138.4C1288.8 1133.4 1288.2 1128.3 1292.8 1124.4C1297.3 1120.5 1302.1 1121.9 1307.5 1118.8C1313.0 1115.8 1314.4 1110.9 1320.0 1109.1C1325.6 1107.3 1329.5 1110.5 1335.6 1109.8C1341.8 1109.2 1344.9 1105.2 1350.7 1105.8C1356.6 1106.3 1358.9 1110.8 1364.9 1112.6C1370.8 1114.5 1375.2 1112.1 1380.4 1114.9C1385.6 1117.8 1386.0 1122.9 1390.9 1126.9C1395.7 1130.9 1400.7 1130.4 1404.4 1135.1C1408.2 1139.8 1406.7 1144.8 1409.6 1150.4C1412.6 1156.1 1417.4 1157.5 1419.2 1163.4Z" fill="#c9b9e9" stroke="#9c8bc6" stroke-width="1.3"/>
<path d="M1365.3 1146.4C1369.3 1145.9 1376.3 1147.0 1380.4 1148.9C1384.4 1150.8 1391.0 1156.1 1394.1 1160.2C1397.3 1164.2 1401.5 1172.6 1402.9 1177.7C1404.3 1182.8 1404.9 1191.3 1404.2 1196.5C1403.5 1201.8 1400.7 1210.4 1397.9 1215.3C1395.1 1220.2 1388.7 1227.7 1384.1 1231.6C1379.5 1235.5 1370.6 1240.3 1365.3 1242.9C1360.1 1245.5 1351.4 1249.2 1346.5 1250.4C1341.6 1251.6 1334.6 1252.4 1330.2 1251.7C1325.8 1251.0 1319.2 1248.0 1315.2 1245.4C1311.2 1242.8 1304.3 1236.7 1301.4 1232.9C1298.5 1229.0 1295.2 1221.7 1294.5 1217.8C1293.8 1214.0 1294.9 1208.4 1296.4 1205.3C1297.9 1202.1 1301.8 1197.5 1305.2 1195.3C1308.5 1193.0 1315.6 1190.1 1320.2 1189.0C1324.8 1187.9 1333.9 1188.4 1337.7 1187.7C1341.6 1187.0 1346.3 1185.7 1347.8 1184.0C1349.3 1182.2 1348.6 1177.8 1348.4 1175.2C1348.2 1172.6 1346.1 1168.3 1346.5 1165.2C1347.0 1162.0 1348.9 1155.3 1351.5 1152.7C1354.2 1150.0 1361.3 1146.9 1365.3 1146.4Z" fill="#b297c7" stroke="#a68bbd" stroke-width="1"/>
<g transform="rotate(-20 1615.1 1186)"><ellipse cx="1615.1" cy="1186" rx="71.4" ry="75.4" fill="#f0aed0" stroke="#6a3458" stroke-width="1.4"/></g>
<path d="M1590.2 1131.4C1593.0 1131.1 1599.7 1130.1 1602.7 1131.4C1605.7 1132.6 1610.0 1137.5 1611.5 1140.1C1613.0 1142.8 1613.9 1147.3 1613.4 1150.2C1612.8 1153.0 1609.9 1158.3 1607.7 1160.2C1605.5 1162.0 1600.9 1163.1 1597.7 1163.3C1594.5 1163.5 1587.8 1161.3 1585.2 1161.4C1582.5 1161.5 1580.0 1162.7 1578.9 1163.9C1577.9 1165.2 1576.8 1168.4 1577.7 1170.2C1578.5 1172.0 1582.4 1174.7 1585.2 1176.5C1588.0 1178.2 1594.9 1180.5 1597.7 1182.7C1600.5 1185.0 1603.8 1189.9 1605.2 1192.8C1606.6 1195.6 1607.7 1199.6 1607.7 1202.8C1607.7 1205.9 1605.2 1212.5 1605.2 1215.3C1605.2 1218.1 1606.3 1221.5 1607.7 1222.8C1609.1 1224.1 1613.7 1225.2 1615.3 1224.7C1616.8 1224.2 1618.1 1221.1 1619.0 1219.1C1619.9 1217.1 1619.9 1212.5 1621.5 1210.3C1623.1 1208.1 1627.7 1204.5 1630.3 1203.4C1632.9 1202.4 1637.7 1202.0 1640.3 1202.8C1642.9 1203.6 1647.4 1206.6 1649.1 1209.0C1650.8 1211.5 1652.4 1217.2 1652.2 1220.3C1652.0 1223.5 1649.8 1229.3 1647.8 1231.6C1645.8 1233.9 1641.5 1236.0 1637.8 1236.6C1634.1 1237.2 1625.4 1236.7 1621.5 1236.0C1617.7 1235.3 1612.9 1232.9 1610.2 1231.6C1607.6 1230.3 1605.5 1227.4 1602.7 1226.6C1599.9 1225.8 1593.7 1226.7 1590.2 1226.0C1586.7 1225.3 1580.8 1223.8 1577.7 1221.6C1574.5 1219.4 1569.4 1213.6 1567.6 1210.3C1565.9 1207.0 1564.9 1201.3 1565.1 1197.8C1565.3 1194.3 1568.0 1188.9 1568.9 1185.2C1569.8 1181.6 1571.0 1175.7 1571.4 1171.5C1571.8 1167.2 1571.3 1159.5 1572.0 1155.2C1572.7 1150.8 1574.9 1143.2 1576.4 1140.1C1577.9 1137.1 1580.7 1134.5 1582.7 1133.2C1584.6 1132.0 1587.4 1131.6 1590.2 1131.4Z" fill="#d07faf"/>
<g stroke="#b8508c" stroke-width="1.2" stroke-linecap="round">
<path d="M1622.1 1136.4L1621.5 1139.5"/>
<path d="M1629.0 1162.1L1632.2 1165.2"/>
<path d="M1644.1 1165.2L1645.3 1168.3"/>
<path d="M1603.3 1180.9L1605.2 1179.0"/>
<path d="M1652.8 1183.4L1652.2 1186.5"/>
<path d="M1558.9 1204.0L1560.1 1205.9"/>
<path d="M1662.9 1193.4L1665.4 1194.6"/>
</g>
<ellipse cx="1962.3" cy="1187.2" rx="72.8" ry="75.6" fill="#aed7b5" stroke="#567f66" stroke-width="1.5"/>
<circle cx="1969.7" cy="1194" r="46.7" fill="#75b892" stroke="#6aad88" stroke-width="1"/>
<g transform="translate(2180.3 1186.6) scale(0.9880) translate(-2180.3 -1186.6)">
<ellipse cx="2180.3" cy="1186.6" rx="77.7" ry="80.4" fill="#9dcfe0" stroke="#3f6f86" stroke-width="1.5"/>
<ellipse cx="2176.4" cy="1175.6" rx="47.3" ry="46.5" fill="#73aac3" stroke="#5a92ac" stroke-width="1.2"/>
</g>
<g transform="translate(2395.3 1185.9) scale(0.9850) translate(-2395.3 -1185.9)">
<ellipse cx="2395.5" cy="1186" rx="78" ry="78.2" fill="#bab2e6" stroke="#5c4b8c" stroke-width="1.5"/>
<g transform="rotate(12 2410 1191)"><ellipse cx="2410" cy="1191" rx="41.5" ry="53" fill="#a599d1"/></g>
<g fill="none" stroke="#8f86c4" stroke-width="1.2">
<circle cx="2378.7" cy="1123.2" r="2.0"/>
<circle cx="2399.8" cy="1127.2" r="2.8"/>
<circle cx="2360.7" cy="1131.2" r="2.0"/>
<circle cx="2356.3" cy="1148.2" r="2.8"/>
<circle cx="2373.1" cy="1147.8" r="2.4"/>
<circle cx="2349.6" cy="1173.9" r="1.8"/>
<circle cx="2356.7" cy="1193.3" r="2.2"/>
<circle cx="2340.0" cy="1210.4" r="2.2"/>
<circle cx="2336.6" cy="1160.3" r="1.6"/>
<path d="M2331.5 1186l1 7M2453.5 1167l2 2M2460 1185l1 5M2359 1224l1 5M2420.5 1246l1 5"/>
</g>
</g>
<g fill="#d62f2f" stroke="#d62f2f" stroke-linejoin="round" stroke-linecap="round">
<path d="M198.6 1509.0C199.0 1511.0 199.2 1513.0 198.9 1514.8C198.6 1516.6 197.9 1518.3 196.8 1519.9C195.8 1521.4 194.2 1522.7 192.6 1524.0C191.0 1525.2 189.0 1526.2 187.2 1527.1C185.3 1528.0 183.4 1528.8 181.5 1529.4C179.6 1530.0 177.8 1530.5 176.0 1530.7C174.2 1530.9 172.3 1531.0 170.4 1530.7C168.6 1530.5 166.6 1530.0 164.7 1529.2C162.8 1528.3 160.8 1527.2 159.2 1525.9C157.7 1524.5 156.2 1522.8 155.2 1521.0C154.2 1519.3 153.5 1517.2 153.3 1515.2C153.0 1513.2 153.3 1511.0 153.6 1509.0C154.0 1507.0 154.7 1505.0 155.4 1503.2C156.1 1501.4 157.0 1499.7 157.9 1498.1C158.8 1496.6 159.7 1495.3 160.8 1494.0C162.0 1492.8 163.2 1491.8 164.7 1490.9C166.2 1490.0 168.0 1489.2 169.9 1488.6C171.8 1488.0 174.0 1487.5 176.0 1487.3C178.0 1487.1 180.2 1487.0 182.1 1487.3C184.0 1487.5 185.7 1488.0 187.2 1488.8C188.7 1489.7 189.9 1490.8 191.1 1492.1C192.2 1493.5 193.2 1495.2 194.1 1497.0C195.1 1498.7 196.0 1500.8 196.7 1502.8C197.5 1504.8 198.3 1507.0 198.6 1509.0Z" stroke-width="2"/>
<path d="M180.0 1489.9Q174.2 1483.4 170.4 1469.1L166.5 1469.8Q168.3 1484.5 165.3 1492.7Z" stroke-width="2.5"/>
<path d="M160.7 1497.0Q152.2 1499.3 142.9 1497.7L141.9 1501.6Q150.6 1505.1 156.6 1511.4Z" stroke-width="2.5"/>
<path d="M191.8 1520.4Q200.1 1517.8 211.1 1519.4L212.0 1515.5Q201.5 1512.0 195.2 1505.9Z" stroke-width="2.5"/>
<path d="M157.6 1515.5Q155.1 1523.9 145.5 1533.8L148.2 1536.8Q159.1 1528.3 167.7 1526.6Z" stroke-width="2.5"/>
<path d="M181.2 1527.8Q189.3 1530.9 197.9 1540.3L201.0 1537.8Q194.1 1527.2 193.0 1518.6Z" stroke-width="2.5"/>
<path d="M193.2 1501.9Q197.6 1495.3 194.5 1496.9L193.1 1494.9Q195.5 1492.4 187.8 1494.7Z" stroke-width="1.5"/>
</g>
<g fill="#d62f2f" stroke="#d62f2f" stroke-linejoin="round" stroke-linecap="round">
<path d="M277.0 1548.0C276.6 1549.9 275.8 1551.7 275.1 1553.4C274.4 1555.2 273.5 1556.9 272.6 1558.5C271.7 1560.1 270.8 1561.7 269.6 1563.1C268.5 1564.5 267.3 1565.9 265.8 1567.1C264.3 1568.3 262.5 1569.4 260.6 1570.1C258.7 1570.8 256.5 1571.4 254.5 1571.6C252.5 1571.8 250.3 1571.7 248.4 1571.2C246.5 1570.7 244.8 1569.9 243.3 1568.8C241.8 1567.7 240.6 1566.3 239.4 1564.7C238.3 1563.2 237.3 1561.3 236.4 1559.5C235.4 1557.6 234.5 1555.6 233.8 1553.7C233.1 1551.8 232.3 1549.9 232.0 1548.0C231.6 1546.1 231.4 1544.3 231.7 1542.6C231.9 1540.8 232.6 1539.1 233.7 1537.5C234.7 1535.9 236.2 1534.3 237.8 1532.9C239.4 1531.5 241.4 1530.1 243.3 1528.9C245.1 1527.7 247.1 1526.6 249.0 1525.9C250.8 1525.2 252.7 1524.6 254.5 1524.4C256.3 1524.2 258.2 1524.3 260.0 1524.8C261.9 1525.3 263.9 1526.1 265.8 1527.2C267.6 1528.3 269.6 1529.7 271.2 1531.3C272.8 1532.8 274.3 1534.7 275.3 1536.5C276.4 1538.4 277.0 1540.4 277.3 1542.3C277.5 1544.2 277.3 1546.1 277.0 1548.0Z" stroke-width="2"/>
<path d="M245.7 1530.6Q237.1 1529.1 225.7 1520.6L223.1 1523.6Q233.2 1533.7 236.0 1542.0Z" stroke-width="2.5"/>
<path d="M237.3 1538.8Q229.4 1542.6 214.7 1542.2L214.3 1546.2Q228.8 1548.6 235.9 1553.8Z" stroke-width="2.5"/>
<path d="M273.9 1546.4Q278.6 1539.0 290.2 1531.9L288.4 1528.4Q275.8 1533.7 267.1 1533.1Z" stroke-width="2.5"/>
<path d="M244.1 1564.5Q247.2 1572.6 246.3 1584.2L250.2 1584.9Q253.1 1573.6 258.8 1567.0Z" stroke-width="2.5"/>
<path d="M263.6 1565.2Q272.3 1566.5 279.3 1571.0L281.8 1567.9Q276.1 1561.9 273.2 1553.6Z" stroke-width="2.5"/>
<path d="M258.0 1529.8Q254.8 1522.4 254.3 1523.4L251.9 1523.6Q251.2 1522.6 249.0 1530.3Z" stroke-width="1.5"/>
</g>
<g fill="#d62f2f" stroke="#d62f2f" stroke-linejoin="round" stroke-linecap="round">
<path d="M220.8 1600.0C220.5 1601.9 219.8 1603.8 218.9 1605.8C218.1 1607.7 216.8 1609.7 215.7 1611.6C214.5 1613.4 213.1 1615.3 211.8 1616.8C210.5 1618.3 209.1 1619.8 207.6 1620.8C206.1 1621.9 204.5 1622.7 202.8 1623.1C201.0 1623.6 199.0 1623.6 197.0 1623.4C195.0 1623.2 192.8 1622.7 190.8 1621.9C188.8 1621.2 186.8 1620.1 185.1 1618.9C183.5 1617.8 182.1 1616.4 180.9 1615.0C179.8 1613.6 179.0 1612.1 178.3 1610.5C177.6 1608.9 177.2 1607.2 176.8 1605.4C176.3 1603.7 176.0 1601.9 175.8 1600.0C175.5 1598.1 175.3 1596.2 175.5 1594.2C175.6 1592.3 175.9 1590.3 176.7 1588.4C177.4 1586.6 178.6 1584.7 180.0 1583.2C181.4 1581.7 183.3 1580.2 185.1 1579.2C187.0 1578.1 189.1 1577.3 191.1 1576.9C193.1 1576.4 195.1 1576.4 197.0 1576.6C198.9 1576.8 200.6 1577.3 202.4 1578.1C204.2 1578.8 205.9 1579.9 207.6 1581.1C209.3 1582.2 211.1 1583.6 212.8 1585.0C214.4 1586.4 216.1 1587.9 217.3 1589.5C218.6 1591.1 219.7 1592.8 220.2 1594.6C220.8 1596.3 221.0 1598.1 220.8 1600.0Z" stroke-width="2"/>
<path d="M211.1 1586.1Q209.2 1577.4 213.4 1563.4L209.3 1561.8Q203.0 1575.0 195.7 1580.2Z" stroke-width="2.8"/>
<path d="M179.0 1592.5Q171.5 1597.0 158.0 1598.0L158.0 1602.0Q171.5 1603.0 179.0 1607.5Z" stroke-width="2.5"/>
<path d="M215.9 1604.8Q222.7 1599.3 231.3 1597.0L230.7 1593.1Q221.8 1593.4 213.7 1590.0Z" stroke-width="2.5"/>
<path d="M178.1 1604.7Q174.7 1612.7 165.3 1620.9L167.7 1624.1Q178.3 1617.6 187.0 1616.7Z" stroke-width="2.5"/>
<path d="M201.4 1619.0Q209.4 1622.5 216.4 1630.6L219.7 1628.3Q214.3 1619.0 213.6 1610.3Z" stroke-width="2.5"/>
<path d="M188.8 1583.3Q182.0 1579.3 182.9 1581.4L181.0 1582.9Q179.2 1581.7 182.0 1589.1Z" stroke-width="1.5"/>
</g>
<g fill="none" stroke="#b9b9e9" stroke-width="8" stroke-linecap="round">
<path d="M1182.3 1521.7C1184.4 1517.3 1190.0 1503.8 1194.7 1495.5C1199.4 1487.2 1207.9 1476.0 1210.6 1472.1"/>
<path d="M1138.2 1518.9C1137.1 1516.4 1134.2 1508.2 1131.3 1503.8C1128.5 1499.3 1122.7 1494.0 1121.0 1492.0"/>
<path d="M1121.7 1527.2C1118.7 1525.8 1109.3 1522.7 1103.8 1518.9C1098.2 1515.1 1091.1 1506.9 1088.6 1504.4"/>
<path d="M1201.6 1532.7C1205.5 1531.6 1219.0 1529.3 1225.1 1525.8C1231.2 1522.4 1236.0 1514.3 1238.2 1512.0"/>
<path d="M1208.5 1543.7C1210.8 1543.0 1220.0 1540.3 1222.3 1539.6"/>
<path d="M1205.8 1574.1C1208.3 1576.8 1214.3 1587.5 1220.9 1590.6C1227.6 1593.7 1241.6 1592.3 1245.7 1592.7"/>
<path d="M1187.8 1594.7C1190.4 1597.5 1200.5 1608.5 1203.0 1611.3"/>
<path d="M1157.5 1608.5C1158.9 1612.0 1164.4 1622.1 1165.8 1629.2C1167.2 1636.3 1165.8 1647.6 1165.8 1651.3"/>
<path d="M1127.2 1592.0C1123.3 1593.4 1111.0 1596.8 1103.8 1600.3C1096.5 1603.7 1087.1 1610.6 1083.8 1612.7"/>
<path d="M1116.2 1567.2C1112.0 1567.1 1098.9 1565.8 1091.4 1566.5C1083.8 1567.2 1074.1 1570.5 1070.7 1571.3"/>
</g>
<g fill="none" stroke="#b9b9e9" stroke-width="12" stroke-linecap="round">
<path d="M1182.3 1521.7C1183.3 1519.7 1187.0 1511.9 1187.9 1509.9"/>
<path d="M1138.2 1518.9C1137.7 1517.8 1135.6 1513.2 1135.1 1512.1"/>
<path d="M1121.7 1527.2C1120.3 1526.6 1115.0 1524.1 1113.6 1523.5"/>
<path d="M1201.6 1532.7C1203.4 1532.2 1210.4 1530.1 1212.2 1529.6"/>
<path d="M1205.8 1574.1C1206.9 1575.3 1211.5 1580.3 1212.6 1581.5"/>
<path d="M1157.5 1608.5C1158.1 1610.1 1160.6 1616.3 1161.2 1617.8"/>
<path d="M1127.2 1592.0C1125.4 1592.6 1118.4 1595.1 1116.6 1595.7"/>
<path d="M1116.2 1567.2C1114.3 1567.1 1106.9 1566.9 1105.0 1566.9"/>
</g>
<path d="M1152.0 1507.9C1157.4 1507.0 1169.0 1505.4 1174.1 1505.8C1179.1 1506.2 1184.2 1508.4 1187.8 1510.7C1191.5 1512.9 1197.4 1518.2 1200.3 1521.7C1203.1 1525.2 1207.0 1531.6 1208.5 1535.5C1210.1 1539.3 1210.6 1545.2 1211.3 1549.2C1212.0 1553.3 1213.5 1560.2 1213.3 1564.4C1213.2 1568.7 1211.7 1575.5 1209.9 1579.6C1208.1 1583.6 1203.3 1590.1 1200.3 1593.4C1197.2 1596.6 1191.5 1600.9 1187.8 1603.0C1184.2 1605.1 1177.9 1607.1 1174.1 1608.5C1170.2 1610.0 1164.3 1613.2 1160.3 1613.3C1156.2 1613.5 1149.5 1609.9 1145.1 1609.9C1140.8 1609.9 1131.8 1614.7 1129.3 1613.3C1126.8 1612.0 1128.6 1603.4 1127.2 1600.3C1125.7 1597.1 1121.0 1593.9 1118.9 1590.6C1116.8 1587.3 1113.4 1580.5 1112.0 1576.8C1110.7 1573.2 1110.7 1567.3 1109.3 1564.4C1107.8 1561.5 1102.3 1558.1 1101.7 1556.1C1101.1 1554.2 1103.7 1552.0 1105.1 1550.6C1106.6 1549.3 1111.0 1549.0 1112.0 1546.5C1113.1 1544.0 1111.4 1536.2 1112.7 1532.7C1114.1 1529.2 1118.5 1524.6 1121.7 1521.7C1124.9 1518.8 1131.2 1514.0 1135.5 1512.0C1139.7 1510.1 1146.6 1508.8 1152.0 1507.9Z" fill="#b9b9e9"/>
<g transform="rotate(-12 1165 1568)"><ellipse cx="1165" cy="1568" rx="29" ry="24.5" fill="#9999cd"/></g>
<path d="M1596.6 1583.1C1595.2 1590.5 1589.9 1593.1 1586.7 1600.3C1583.4 1607.5 1584.9 1613.2 1580.3 1619.1C1575.8 1624.9 1570.0 1624.7 1563.9 1629.5C1557.8 1634.3 1556.5 1640.0 1549.9 1643.0C1543.3 1646.0 1538.3 1643.1 1530.8 1644.4C1523.3 1645.6 1519.5 1650.0 1512.3 1649.4C1505.1 1648.8 1502.1 1643.9 1494.9 1641.4C1487.6 1638.9 1482.2 1640.9 1476.1 1636.9C1470.1 1632.9 1469.7 1627.0 1464.4 1621.3C1459.1 1615.5 1453.3 1614.8 1449.7 1608.2C1446.1 1601.7 1448.4 1596.3 1446.3 1588.6C1444.2 1581.0 1439.4 1577.6 1439.1 1570.1C1438.8 1562.5 1443.3 1558.7 1444.8 1550.9C1446.3 1543.1 1443.6 1537.9 1446.6 1531.1C1449.7 1524.3 1455.4 1523.0 1460.2 1516.8C1465.0 1510.7 1464.9 1504.8 1470.7 1500.2C1476.4 1495.7 1482.0 1497.3 1489.0 1494.1C1496.0 1491.0 1498.6 1485.8 1505.7 1484.6C1512.8 1483.4 1517.0 1487.4 1524.6 1488.0C1532.2 1488.7 1536.9 1485.4 1543.7 1487.7C1550.5 1490.1 1552.3 1495.7 1558.8 1499.9C1565.2 1504.2 1570.9 1503.5 1575.9 1509.0C1580.9 1514.4 1579.9 1520.2 1583.8 1527.1C1587.6 1534.0 1593.0 1536.1 1595.0 1543.4C1597.0 1550.6 1593.5 1555.4 1593.8 1563.3C1594.2 1571.3 1598.0 1575.7 1596.6 1583.1Z" fill="#b6b6e7" stroke="#9797cf" stroke-width="1.6"/>
<ellipse cx="1531" cy="1575.5" rx="35" ry="34.5" fill="#9999cd"/>
<g fill="#dcdcf4" opacity="0.85"><circle cx="1532" cy="1507" r="3"/><circle cx="1562" cy="1535" r="4"/><circle cx="1464" cy="1581" r="2.5"/><circle cx="1575" cy="1574" r="2"/><circle cx="1470" cy="1529" r="1.8"/><circle cx="1539" cy="1620" r="1.6"/></g>
<defs><linearGradient id="plg" x1="0" y1="0" x2="0" y2="1"><stop offset="0" stop-color="#668fd0"/><stop offset="0.5" stop-color="#6e96d4"/><stop offset="1" stop-color="#7aa1dc"/></linearGradient></defs>
<path d="M2180.6 1475.2C2189.1 1475.2 2198.4 1476.9 2206.0 1481.0C2213.6 1485.1 2220.8 1491.8 2226.0 1500.0C2231.2 1508.2 2235.1 1519.5 2237.5 1530.0C2239.9 1540.5 2240.7 1551.7 2240.6 1563.0C2240.5 1574.3 2239.6 1587.3 2237.0 1598.0C2234.4 1608.7 2230.3 1619.2 2225.0 1627.0C2219.7 1634.8 2212.4 1641.0 2205.0 1645.0C2197.6 1649.0 2188.8 1650.8 2180.6 1650.8C2172.4 1650.8 2163.3 1649.0 2156.0 1645.0C2148.7 1641.0 2142.2 1634.8 2137.0 1627.0C2131.8 1619.2 2127.2 1608.7 2124.5 1598.0C2121.8 1587.3 2120.8 1574.7 2120.6 1563.0C2120.4 1551.3 2121.1 1538.5 2123.5 1528.0C2125.9 1517.5 2129.8 1507.8 2135.0 1500.0C2140.2 1492.2 2147.4 1485.1 2155.0 1481.0C2162.6 1476.9 2172.1 1475.2 2180.6 1475.2Z" fill="url(#plg)" stroke="#26386e" stroke-width="1.8"/>
<ellipse cx="2183.3" cy="1532.6" rx="40" ry="37" fill="#8eb0e2"/>
<ellipse cx="2180.3" cy="1528.4" rx="38.8" ry="35.4" fill="#4566bc"/>
<g fill="#2c49b2" filter="url(#b1)">
<ellipse cx="2181.0" cy="1507.0" rx="7.2" ry="6.6"/>
<ellipse cx="2162.0" cy="1517.0" rx="7.2" ry="6.6"/>
<ellipse cx="2199.0" cy="1516.5" rx="7.2" ry="6.6"/>
<ellipse cx="2181.5" cy="1527.5" rx="7.2" ry="6.6"/>
<ellipse cx="2162.5" cy="1538.0" rx="7.2" ry="6.6"/>
<ellipse cx="2199.0" cy="1537.0" rx="7.2" ry="6.6"/>
<ellipse cx="2180.5" cy="1547.5" rx="7.2" ry="6.6"/>
</g>
<ellipse cx="2179" cy="1592" rx="34" ry="22" fill="#8aa8ec" opacity="0.55" filter="url(#b2)"/>
<g fill="none" stroke="#3455c0" stroke-width="3.4" stroke-linecap="round">
<path d="M2162.0 1566.0Q2179.0 1576.7 2196.0 1566.0"/>
<path d="M2152.0 1574.0Q2179.0 1589.8 2206.0 1574.0"/>
<path d="M2146.0 1582.5Q2179.0 1600.8 2212.0 1582.5"/>
<path d="M2146.0 1591.0Q2179.0 1609.3 2212.0 1591.0"/>
<path d="M2151.0 1599.5Q2179.0 1614.4 2207.0 1599.5"/>
</g>
<g fill="#3455c0"><circle cx="2163.8" cy="1616" r="3"/><circle cx="2183" cy="1620.8" r="3"/><circle cx="2196" cy="1613.7" r="2.6"/></g>
<g opacity="0.995">
<text x="1912.20" y="388.5" textLength="236.00" lengthAdjust="spacing">Bone marrow</text>
<text x="1412.50" y="605.4" textLength="264.84" lengthAdjust="spacing">Hematopoietic</text>
<text x="1465.00" y="657.4" textLength="162.31" lengthAdjust="spacing">stem cell</text>
<text x="1023.50" y="869.7" textLength="140.95" lengthAdjust="spacing">Myeloid</text>
<text x="1024.00" y="922.5" textLength="256.15" lengthAdjust="spacing">progenitor cell</text>
<text x="1902.90" y="869.7" textLength="173.98" lengthAdjust="spacing">Lymphoid</text>
<text x="1820.70" y="922.7" textLength="256.26" lengthAdjust="spacing">progenitor cell</text>
<text x="86.50" y="1322.5" textLength="274.99" lengthAdjust="spacing">Megakaryocyte</text>
<text x="392.80" y="1322.5" textLength="185.88" lengthAdjust="spacing">Eosinophil</text>
<text x="695.00" y="1322.5" textLength="155.53" lengthAdjust="spacing">Basophil</text>
<text x="943.70" y="1322.5" textLength="222.83" lengthAdjust="spacing">Erythrocytes</text>
<text x="1255.60" y="1322.5" textLength="180.05" lengthAdjust="spacing">Monocyte</text>
<text x="1523.50" y="1322.5" textLength="186.27" lengthAdjust="spacing">Neutrophil</text>
<text x="1917.25" y="1322.5" textLength="94.86" lengthAdjust="spacing">T cell</text>
<text x="2133.70" y="1322.5" textLength="96.47" lengthAdjust="spacing">B cell</text>
<text x="2333.50" y="1322.5" textLength="126.64" lengthAdjust="spacing">NK cell</text>
<text x="145.00" y="1698.5" textLength="157.19" lengthAdjust="spacing">Platelets</text>
<text x="1050.40" y="1699.4" textLength="233.32" lengthAdjust="spacing">Dendritic cell</text>
<text x="1408.00" y="1699.4" textLength="227.64" lengthAdjust="spacing">Macrophage</text>
<text x="2079.00" y="1698.4" textLength="208.23" lengthAdjust="spacing">Plasma cell</text>
</g>
</svg>
</body></html>
